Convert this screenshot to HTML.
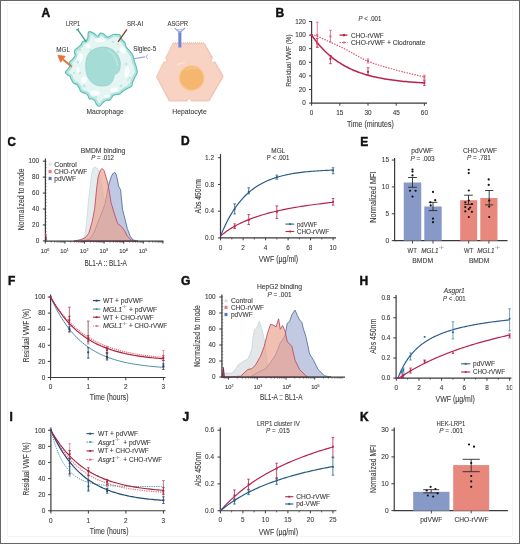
<!DOCTYPE html><html><head><meta charset="utf-8"><style>html,body{margin:0;padding:0;background:#fff;}svg{display:block;font-family:"Liberation Sans",sans-serif;filter:blur(0.3px);}</style></head><body>
<svg width="520" height="544" viewBox="0 0 520 544">
<rect x="0" y="0" width="520" height="544" fill="#fff"/>
<text x="41.5" y="16.70" font-size="12" font-weight="bold" fill="#111" stroke="#111" stroke-width="0.45">A</text>
<text x="275.5" y="16.80" font-size="12" font-weight="bold" fill="#111" stroke="#111" stroke-width="0.45">B</text>
<text x="7.2" y="145.60" font-size="12" font-weight="bold" fill="#111" stroke="#111" stroke-width="0.45">C</text>
<text x="181" y="145.40" font-size="12" font-weight="bold" fill="#111" stroke="#111" stroke-width="0.45">D</text>
<text x="360.2" y="145.60" font-size="12" font-weight="bold" fill="#111" stroke="#111" stroke-width="0.45">E</text>
<text x="8" y="284.50" font-size="12" font-weight="bold" fill="#111" stroke="#111" stroke-width="0.45">F</text>
<text x="181" y="284.50" font-size="12" font-weight="bold" fill="#111" stroke="#111" stroke-width="0.45">G</text>
<text x="359.5" y="284.50" font-size="12" font-weight="bold" fill="#111" stroke="#111" stroke-width="0.45">H</text>
<text x="9.5" y="421.10" font-size="12" font-weight="bold" fill="#111" stroke="#111" stroke-width="0.45">I</text>
<text x="182.5" y="421.10" font-size="12" font-weight="bold" fill="#111" stroke="#111" stroke-width="0.45">J</text>
<text x="360" y="421.20" font-size="12" font-weight="bold" fill="#111" stroke="#111" stroke-width="0.45">K</text>
<defs><clipPath id="macclip"><path d="M88.20,32.75 C88.51,31.72 88.82,31.52 89.77,31.62 C90.72,31.71 92.56,32.58 93.88,33.34 C95.19,34.11 96.57,36.26 97.66,36.20 C98.76,36.14 99.43,33.36 100.45,33.01 C101.46,32.65 102.53,33.39 103.74,34.07 C104.94,34.76 106.11,37.06 107.70,37.12 C109.29,37.18 111.71,34.85 113.26,34.42 C114.81,33.99 115.89,34.47 116.98,34.55 C118.07,34.63 118.93,33.99 119.81,34.88 C120.69,35.76 121.42,38.55 122.25,39.84 C123.09,41.13 124.16,41.42 124.83,42.63 C125.50,43.84 125.44,45.67 126.29,47.11 C127.15,48.55 128.82,49.79 129.96,51.28 C131.09,52.76 132.37,54.29 133.10,56.02 C133.84,57.74 133.94,60.11 134.38,61.62 C134.82,63.13 135.26,63.33 135.75,65.07 C136.24,66.82 137.43,70.13 137.32,72.08 C137.21,74.02 135.89,75.04 135.10,76.73 C134.31,78.42 133.10,80.67 132.56,82.22 C132.01,83.77 132.44,85.10 131.85,86.01 C131.26,86.93 130.14,87.09 129.02,87.70 C127.91,88.31 126.31,89.01 125.16,89.68 C124.01,90.36 123.01,91.04 122.13,91.76 C121.24,92.48 120.79,93.57 119.86,94.03 C118.94,94.49 117.70,94.28 116.58,94.53 C115.45,94.78 114.14,94.66 113.11,95.52 C112.07,96.38 111.45,98.90 110.34,99.70 C109.24,100.50 107.58,99.94 106.47,100.32 C105.37,100.70 104.87,101.00 103.69,102.00 C102.52,102.99 100.67,105.91 99.45,106.28 C98.23,106.65 97.20,105.15 96.39,104.20 C95.59,103.26 95.40,101.51 94.62,100.61 C93.85,99.71 92.59,99.09 91.73,98.80 C90.88,98.52 90.21,99.59 89.49,98.91 C88.78,98.22 88.14,95.62 87.44,94.69 C86.74,93.77 86.36,93.85 85.27,93.34 C84.18,92.84 81.96,92.67 80.89,91.68 C79.83,90.69 79.56,88.59 78.88,87.39 C78.19,86.19 77.68,85.21 76.79,84.49 C75.89,83.76 74.44,83.96 73.50,83.07 C72.55,82.17 71.67,80.25 71.11,79.14 C70.54,78.03 70.75,77.18 70.10,76.41 C69.45,75.65 67.98,75.29 67.20,74.56 C66.43,73.82 65.23,73.00 65.44,71.99 C65.65,70.98 67.69,69.55 68.45,68.49 C69.20,67.43 69.81,66.69 69.98,65.64 C70.15,64.60 69.09,63.28 69.48,62.23 C69.87,61.18 71.38,60.47 72.33,59.35 C73.27,58.23 74.78,56.93 75.13,55.53 C75.49,54.12 73.99,52.23 74.46,50.89 C74.94,49.55 76.86,48.51 77.97,47.48 C79.08,46.44 80.33,45.68 81.12,44.67 C81.91,43.65 81.88,42.02 82.69,41.38 C83.50,40.73 85.12,41.39 85.99,40.80 C86.85,40.21 87.51,39.15 87.88,37.81 C88.25,36.47 87.88,33.78 88.20,32.75 Z"/></clipPath></defs>
<path d="M88.20,32.75 C88.51,31.72 88.82,31.52 89.77,31.62 C90.72,31.71 92.56,32.58 93.88,33.34 C95.19,34.11 96.57,36.26 97.66,36.20 C98.76,36.14 99.43,33.36 100.45,33.01 C101.46,32.65 102.53,33.39 103.74,34.07 C104.94,34.76 106.11,37.06 107.70,37.12 C109.29,37.18 111.71,34.85 113.26,34.42 C114.81,33.99 115.89,34.47 116.98,34.55 C118.07,34.63 118.93,33.99 119.81,34.88 C120.69,35.76 121.42,38.55 122.25,39.84 C123.09,41.13 124.16,41.42 124.83,42.63 C125.50,43.84 125.44,45.67 126.29,47.11 C127.15,48.55 128.82,49.79 129.96,51.28 C131.09,52.76 132.37,54.29 133.10,56.02 C133.84,57.74 133.94,60.11 134.38,61.62 C134.82,63.13 135.26,63.33 135.75,65.07 C136.24,66.82 137.43,70.13 137.32,72.08 C137.21,74.02 135.89,75.04 135.10,76.73 C134.31,78.42 133.10,80.67 132.56,82.22 C132.01,83.77 132.44,85.10 131.85,86.01 C131.26,86.93 130.14,87.09 129.02,87.70 C127.91,88.31 126.31,89.01 125.16,89.68 C124.01,90.36 123.01,91.04 122.13,91.76 C121.24,92.48 120.79,93.57 119.86,94.03 C118.94,94.49 117.70,94.28 116.58,94.53 C115.45,94.78 114.14,94.66 113.11,95.52 C112.07,96.38 111.45,98.90 110.34,99.70 C109.24,100.50 107.58,99.94 106.47,100.32 C105.37,100.70 104.87,101.00 103.69,102.00 C102.52,102.99 100.67,105.91 99.45,106.28 C98.23,106.65 97.20,105.15 96.39,104.20 C95.59,103.26 95.40,101.51 94.62,100.61 C93.85,99.71 92.59,99.09 91.73,98.80 C90.88,98.52 90.21,99.59 89.49,98.91 C88.78,98.22 88.14,95.62 87.44,94.69 C86.74,93.77 86.36,93.85 85.27,93.34 C84.18,92.84 81.96,92.67 80.89,91.68 C79.83,90.69 79.56,88.59 78.88,87.39 C78.19,86.19 77.68,85.21 76.79,84.49 C75.89,83.76 74.44,83.96 73.50,83.07 C72.55,82.17 71.67,80.25 71.11,79.14 C70.54,78.03 70.75,77.18 70.10,76.41 C69.45,75.65 67.98,75.29 67.20,74.56 C66.43,73.82 65.23,73.00 65.44,71.99 C65.65,70.98 67.69,69.55 68.45,68.49 C69.20,67.43 69.81,66.69 69.98,65.64 C70.15,64.60 69.09,63.28 69.48,62.23 C69.87,61.18 71.38,60.47 72.33,59.35 C73.27,58.23 74.78,56.93 75.13,55.53 C75.49,54.12 73.99,52.23 74.46,50.89 C74.94,49.55 76.86,48.51 77.97,47.48 C79.08,46.44 80.33,45.68 81.12,44.67 C81.91,43.65 81.88,42.02 82.69,41.38 C83.50,40.73 85.12,41.39 85.99,40.80 C86.85,40.21 87.51,39.15 87.88,37.81 C88.25,36.47 87.88,33.78 88.20,32.75 Z" fill="#e4f5f3"/>
<g clip-path="url(#macclip)">
<path d="M88.20,32.75 C88.51,31.72 88.82,31.52 89.77,31.62 C90.72,31.71 92.56,32.58 93.88,33.34 C95.19,34.11 96.57,36.26 97.66,36.20 C98.76,36.14 99.43,33.36 100.45,33.01 C101.46,32.65 102.53,33.39 103.74,34.07 C104.94,34.76 106.11,37.06 107.70,37.12 C109.29,37.18 111.71,34.85 113.26,34.42 C114.81,33.99 115.89,34.47 116.98,34.55 C118.07,34.63 118.93,33.99 119.81,34.88 C120.69,35.76 121.42,38.55 122.25,39.84 C123.09,41.13 124.16,41.42 124.83,42.63 C125.50,43.84 125.44,45.67 126.29,47.11 C127.15,48.55 128.82,49.79 129.96,51.28 C131.09,52.76 132.37,54.29 133.10,56.02 C133.84,57.74 133.94,60.11 134.38,61.62 C134.82,63.13 135.26,63.33 135.75,65.07 C136.24,66.82 137.43,70.13 137.32,72.08 C137.21,74.02 135.89,75.04 135.10,76.73 C134.31,78.42 133.10,80.67 132.56,82.22 C132.01,83.77 132.44,85.10 131.85,86.01 C131.26,86.93 130.14,87.09 129.02,87.70 C127.91,88.31 126.31,89.01 125.16,89.68 C124.01,90.36 123.01,91.04 122.13,91.76 C121.24,92.48 120.79,93.57 119.86,94.03 C118.94,94.49 117.70,94.28 116.58,94.53 C115.45,94.78 114.14,94.66 113.11,95.52 C112.07,96.38 111.45,98.90 110.34,99.70 C109.24,100.50 107.58,99.94 106.47,100.32 C105.37,100.70 104.87,101.00 103.69,102.00 C102.52,102.99 100.67,105.91 99.45,106.28 C98.23,106.65 97.20,105.15 96.39,104.20 C95.59,103.26 95.40,101.51 94.62,100.61 C93.85,99.71 92.59,99.09 91.73,98.80 C90.88,98.52 90.21,99.59 89.49,98.91 C88.78,98.22 88.14,95.62 87.44,94.69 C86.74,93.77 86.36,93.85 85.27,93.34 C84.18,92.84 81.96,92.67 80.89,91.68 C79.83,90.69 79.56,88.59 78.88,87.39 C78.19,86.19 77.68,85.21 76.79,84.49 C75.89,83.76 74.44,83.96 73.50,83.07 C72.55,82.17 71.67,80.25 71.11,79.14 C70.54,78.03 70.75,77.18 70.10,76.41 C69.45,75.65 67.98,75.29 67.20,74.56 C66.43,73.82 65.23,73.00 65.44,71.99 C65.65,70.98 67.69,69.55 68.45,68.49 C69.20,67.43 69.81,66.69 69.98,65.64 C70.15,64.60 69.09,63.28 69.48,62.23 C69.87,61.18 71.38,60.47 72.33,59.35 C73.27,58.23 74.78,56.93 75.13,55.53 C75.49,54.12 73.99,52.23 74.46,50.89 C74.94,49.55 76.86,48.51 77.97,47.48 C79.08,46.44 80.33,45.68 81.12,44.67 C81.91,43.65 81.88,42.02 82.69,41.38 C83.50,40.73 85.12,41.39 85.99,40.80 C86.85,40.21 87.51,39.15 87.88,37.81 C88.25,36.47 87.88,33.78 88.20,32.75 Z" fill="none" stroke="#b3e4de" stroke-width="5"/>
<ellipse cx="80" cy="58" rx="3" ry="5" transform="rotate(20 80 58)" fill="#fbfefe" opacity="0.9"/>
<ellipse cx="84" cy="80" rx="3" ry="3.5" transform="rotate(0 84 80)" fill="#fbfefe" opacity="0.9"/>
<ellipse cx="95" cy="93" rx="5" ry="2.5" transform="rotate(10 95 93)" fill="#fbfefe" opacity="0.9"/>
<ellipse cx="114" cy="90" rx="4" ry="2.5" transform="rotate(-20 114 90)" fill="#fbfefe" opacity="0.9"/>
<ellipse cx="127" cy="72" rx="2.5" ry="6" transform="rotate(10 127 72)" fill="#fbfefe" opacity="0.9"/>
<ellipse cx="123" cy="50" rx="3" ry="4" transform="rotate(-30 123 50)" fill="#fbfefe" opacity="0.9"/>
<ellipse cx="100" cy="40" rx="5" ry="2" transform="rotate(0 100 40)" fill="#fbfefe" opacity="0.9"/>
<ellipse cx="88" cy="46" rx="2.5" ry="2" transform="rotate(20 88 46)" fill="#fbfefe" opacity="0.9"/>
<ellipse cx="107" cy="96" rx="3" ry="1.5" transform="rotate(0 107 96)" fill="#fbfefe" opacity="0.9"/>
<ellipse cx="78" cy="70" rx="1.5" ry="3" transform="rotate(0 78 70)" fill="#fbfefe" opacity="0.9"/>
<circle cx="78" cy="62" r="1.3" fill="#bfe8e3"/>
<circle cx="84" cy="86" r="1.5" fill="#bfe8e3"/>
<circle cx="121" cy="86" r="1.6" fill="#bfe8e3"/>
<circle cx="126" cy="64" r="1.3" fill="#bfe8e3"/>
<circle cx="96" cy="97" r="1.3" fill="#bfe8e3"/>
<circle cx="113" cy="42" r="1.2" fill="#bfe8e3"/>
<circle cx="90" cy="50" r="1.1" fill="#bfe8e3"/>
<circle cx="118" cy="52" r="1.2" fill="#bfe8e3"/>
<circle cx="130" cy="78" r="1.2" fill="#bfe8e3"/>
<circle cx="74" cy="73" r="1.1" fill="#bfe8e3"/>
<circle cx="104" cy="100" r="1.4" fill="#bfe8e3"/>
<circle cx="129" cy="84" r="1.1" fill="#bfe8e3"/>
<circle cx="80" cy="50" r="1.2" fill="#bfe8e3"/>
</g>
<path d="M88.20,32.75 C88.51,31.72 88.82,31.52 89.77,31.62 C90.72,31.71 92.56,32.58 93.88,33.34 C95.19,34.11 96.57,36.26 97.66,36.20 C98.76,36.14 99.43,33.36 100.45,33.01 C101.46,32.65 102.53,33.39 103.74,34.07 C104.94,34.76 106.11,37.06 107.70,37.12 C109.29,37.18 111.71,34.85 113.26,34.42 C114.81,33.99 115.89,34.47 116.98,34.55 C118.07,34.63 118.93,33.99 119.81,34.88 C120.69,35.76 121.42,38.55 122.25,39.84 C123.09,41.13 124.16,41.42 124.83,42.63 C125.50,43.84 125.44,45.67 126.29,47.11 C127.15,48.55 128.82,49.79 129.96,51.28 C131.09,52.76 132.37,54.29 133.10,56.02 C133.84,57.74 133.94,60.11 134.38,61.62 C134.82,63.13 135.26,63.33 135.75,65.07 C136.24,66.82 137.43,70.13 137.32,72.08 C137.21,74.02 135.89,75.04 135.10,76.73 C134.31,78.42 133.10,80.67 132.56,82.22 C132.01,83.77 132.44,85.10 131.85,86.01 C131.26,86.93 130.14,87.09 129.02,87.70 C127.91,88.31 126.31,89.01 125.16,89.68 C124.01,90.36 123.01,91.04 122.13,91.76 C121.24,92.48 120.79,93.57 119.86,94.03 C118.94,94.49 117.70,94.28 116.58,94.53 C115.45,94.78 114.14,94.66 113.11,95.52 C112.07,96.38 111.45,98.90 110.34,99.70 C109.24,100.50 107.58,99.94 106.47,100.32 C105.37,100.70 104.87,101.00 103.69,102.00 C102.52,102.99 100.67,105.91 99.45,106.28 C98.23,106.65 97.20,105.15 96.39,104.20 C95.59,103.26 95.40,101.51 94.62,100.61 C93.85,99.71 92.59,99.09 91.73,98.80 C90.88,98.52 90.21,99.59 89.49,98.91 C88.78,98.22 88.14,95.62 87.44,94.69 C86.74,93.77 86.36,93.85 85.27,93.34 C84.18,92.84 81.96,92.67 80.89,91.68 C79.83,90.69 79.56,88.59 78.88,87.39 C78.19,86.19 77.68,85.21 76.79,84.49 C75.89,83.76 74.44,83.96 73.50,83.07 C72.55,82.17 71.67,80.25 71.11,79.14 C70.54,78.03 70.75,77.18 70.10,76.41 C69.45,75.65 67.98,75.29 67.20,74.56 C66.43,73.82 65.23,73.00 65.44,71.99 C65.65,70.98 67.69,69.55 68.45,68.49 C69.20,67.43 69.81,66.69 69.98,65.64 C70.15,64.60 69.09,63.28 69.48,62.23 C69.87,61.18 71.38,60.47 72.33,59.35 C73.27,58.23 74.78,56.93 75.13,55.53 C75.49,54.12 73.99,52.23 74.46,50.89 C74.94,49.55 76.86,48.51 77.97,47.48 C79.08,46.44 80.33,45.68 81.12,44.67 C81.91,43.65 81.88,42.02 82.69,41.38 C83.50,40.73 85.12,41.39 85.99,40.80 C86.85,40.21 87.51,39.15 87.88,37.81 C88.25,36.47 87.88,33.78 88.20,32.75 Z" fill="none" stroke="#5bbcb2" stroke-width="1.1" stroke-linejoin="round"/>
<circle cx="80" cy="73" r="0.6" fill="#d9866a"/>
<circle cx="128" cy="80" r="0.5" fill="#d9866a"/>
<path d="M101.00,47.20 C104.17,46.78 107.33,47.37 110.00,48.50 C112.67,49.63 115.30,51.75 117.00,54.00 C118.70,56.25 119.78,59.33 120.20,62.00 C120.62,64.67 120.03,68.08 119.50,70.00 C118.97,71.92 117.83,72.75 117.00,73.50 C116.17,74.25 115.08,73.67 114.50,74.50 C113.92,75.33 114.25,76.92 113.50,78.50 C112.75,80.08 111.75,82.75 110.00,84.00 C108.25,85.25 105.50,85.92 103.00,86.00 C100.50,86.08 97.33,85.67 95.00,84.50 C92.67,83.33 90.50,81.42 89.00,79.00 C87.50,76.58 86.42,73.33 86.00,70.00 C85.58,66.67 85.67,62.17 86.50,59.00 C87.33,55.83 88.58,52.97 91.00,51.00 C93.42,49.03 97.83,47.62 101.00,47.20 Z" fill="#a6dcd6" stroke="#8fd0c9" stroke-width="0.8"/>
<path d="M108,50 Q117,56 117.5,66" stroke="#bce6e1" stroke-width="1.2" fill="none"/>
<path d="M77.5,29.4 L86.25,41.9" stroke="#3a9a91" stroke-width="1.3"/>
<path d="M76.2,30.2 L79,28.6" stroke="#3a9a91" stroke-width="1.1"/>
<path d="M126.9,29.4 L118.1,41.9" stroke="#7e3f2b" stroke-width="1.3"/>
<circle cx="117.6" cy="44" r="1.3" fill="#f2e8b0"/>
<path d="M63,59.5 L71,66" stroke="#e2773a" stroke-width="2.2"/>
<path d="M57.8,55.2 L65.2,56.3 L60.6,62.2 Z" fill="#e2773a" stroke="#e2773a" stroke-width="0.8" stroke-linejoin="round"/>
<path d="M69,64.5 L72,67" stroke="#9c8c80" stroke-width="1.2"/>
<path d="M133.75,58.75 L145,56.9" stroke="#8fa8d8" stroke-width="1.1"/>
<path d="M147.8,54.8 Q144.6,56.8 147.8,58.8" stroke="#8fa8d8" stroke-width="1" fill="none"/>
<path d="M172.50,44.20 L173.50,42.40 L174.50,44.20 L175.50,42.40 L176.50,44.20 L177.50,42.40 L178.50,44.20 L179.50,42.40 L180.50,44.20 L181.50,42.40 L182.50,44.20 L183.50,42.40 L184.50,44.20 L185.50,42.40 L186.50,44.20 L187.50,42.40 L188.50,44.20 L189.50,42.40 L190.50,44.20 L191.50,42.40 L192.50,44.20 L193.50,42.40 L194.50,44.20 L195.50,42.40 L196.50,44.20 L197.50,42.40 L198.50,44.20 L199.50,42.40 L200.50,44.20 L201.50,42.40 L202.50,44.20 L203.50,42.40 L204.00,44.20 L205.37,44.57 L205.00,45.93 L206.36,46.30 L206.00,47.67 L207.36,48.03 L206.99,49.40 L208.36,49.77 L207.99,51.13 L209.36,51.50 L208.99,52.87 L210.36,53.23 L209.99,54.60 L211.35,54.97 L210.99,56.33 L212.35,56.70 L211.98,58.07 L212.30,58.62 L211.65,59.17 L211.25,59.90 L211.16,60.70 L211.39,61.45 L211.92,62.03 L212.66,62.35 L213.49,62.37 L214.30,62.08 L215.35,61.90 L214.98,63.26 L216.34,63.63 L215.98,65.00 L217.34,65.37 L216.97,66.73 L218.34,67.10 L217.97,68.46 L219.34,68.83 L218.97,70.20 L220.34,70.57 L219.97,71.93 L221.33,72.30 L220.97,73.66 L222.33,74.03 L221.96,75.40 L223.33,75.76 L222.60,76.50 L222.96,77.87 L221.59,78.23 L221.95,79.60 L220.58,79.95 L220.94,81.32 L219.58,81.68 L219.94,83.05 L218.57,83.41 L218.93,84.78 L217.56,85.14 L217.92,86.50 L216.55,86.86 L216.91,88.23 L215.54,88.59 L215.90,89.96 L214.53,90.32 L214.89,91.69 L213.53,92.05 L213.89,93.41 L212.52,93.77 L212.88,95.14 L211.51,95.50 L211.87,96.87 L210.50,97.23 L210.86,98.60 L209.49,98.95 L209.85,100.32 L208.49,100.68 L208.30,101.00 L207.30,101.00 L206.30,101.00 L205.30,101.00 L204.30,101.00 L203.30,101.00 L202.30,101.00 L201.30,101.00 L200.30,101.00 L199.30,101.00 L198.30,101.00 L197.30,101.00 L196.30,101.00 L195.30,101.00 L194.30,101.00 L193.30,101.00 L192.30,101.00 L191.30,101.00 L191.15,101.00 L191.00,100.16 L190.56,99.44 L189.92,98.97 L189.15,98.80 L188.38,98.97 L187.74,99.44 L187.30,100.16 L187.15,101.00 L186.30,101.00 L185.30,101.00 L184.30,101.00 L183.30,101.00 L182.30,101.00 L181.30,101.00 L180.30,101.00 L179.30,101.00 L178.30,101.00 L177.30,101.00 L176.30,101.00 L175.30,101.00 L174.30,101.00 L173.30,101.00 L172.30,101.00 L171.30,101.00 L170.30,101.00 L170.00,101.00 L168.65,100.58 L169.07,99.23 L167.71,98.81 L168.13,97.46 L166.78,97.05 L167.20,95.69 L165.85,95.28 L166.26,93.93 L164.91,93.51 L165.33,92.16 L163.98,91.74 L164.40,90.39 L163.05,89.97 L163.46,88.62 L162.11,88.20 L162.53,86.85 L161.18,86.43 L161.60,85.08 L160.24,84.67 L160.66,83.31 L159.31,82.90 L159.73,81.55 L158.38,81.13 L158.79,79.78 L157.44,79.36 L157.86,78.01 L156.51,77.59 L156.93,76.24 L156.80,76.00 L157.24,75.10 L157.69,74.21 L158.13,73.31 L158.57,72.41 L159.01,71.52 L159.46,70.62 L159.90,69.72 L160.34,68.83 L160.78,67.93 L161.23,67.03 L161.67,66.14 L162.11,65.24 L162.56,64.34 L163.00,63.45 L163.44,62.55 L163.76,61.89 L164.59,62.13 L165.42,62.06 L166.13,61.69 L166.62,61.07 L166.81,60.31 L166.67,59.52 L166.22,58.82 L165.54,58.31 L165.65,58.07 L166.10,57.17 L166.54,56.27 L166.98,55.38 L167.42,54.48 L167.87,53.58 L168.31,52.69 L168.75,51.79 L169.20,50.89 L169.64,50.00 L170.08,49.10 L170.52,48.20 L170.97,47.31 L171.41,46.41 L171.85,45.51 L172.29,44.62 Z" fill="#f8d2c2" stroke="#eab29c" stroke-width="0.7" stroke-linejoin="round"/>
<circle cx="191.7" cy="78" r="12.4" fill="#f5b66f" stroke="#f8cb98" stroke-width="1.3"/>
<path d="M186,70 Q191,66.5 197,68.5" stroke="#f9d3a6" stroke-width="0.8" fill="none"/>
<path d="M177,64.5 L185,62.5" stroke="#fbe6dd" stroke-width="1.1" fill="none"/>
<rect x="178.2" y="31.3" width="3.1" height="16.2" fill="#7484cc" stroke="#b3bfe9" stroke-width="0.5"/>
<path d="M174.6,28 L179.7,32.5 L185.2,28" stroke="#9aaae0" stroke-width="1.3" fill="none"/>
<path d="M176.6,29.8 L183,29.8" stroke="#9aaae0" stroke-width="0.8" fill="none"/>
<text x="73.00" y="25.96" font-size="6.6" fill="#3b3b3b" text-anchor="middle" textLength="14" lengthAdjust="spacingAndGlyphs" stroke="#3b3b3b" stroke-width="0.08">LRP1</text>
<text x="63.10" y="51.96" font-size="6.6" fill="#3b3b3b" text-anchor="middle" textLength="13.75" lengthAdjust="spacingAndGlyphs" stroke="#3b3b3b" stroke-width="0.08">MGL</text>
<text x="135.00" y="26.11" font-size="6.6" fill="#3b3b3b" text-anchor="middle" textLength="16.2" lengthAdjust="spacingAndGlyphs" stroke="#3b3b3b" stroke-width="0.08">SR-AI</text>
<text x="144.70" y="51.16" font-size="6.6" fill="#3b3b3b" text-anchor="middle" textLength="23.15" lengthAdjust="spacingAndGlyphs" stroke="#3b3b3b" stroke-width="0.08">Siglec-5</text>
<text x="177.80" y="25.96" font-size="6.6" fill="#3b3b3b" text-anchor="middle" textLength="20.6" lengthAdjust="spacingAndGlyphs" stroke="#3b3b3b" stroke-width="0.08">ASGPR</text>
<text x="105.05" y="113.56" font-size="6.6" fill="#3b3b3b" text-anchor="middle" textLength="37.1" lengthAdjust="spacingAndGlyphs" stroke="#3b3b3b" stroke-width="0.08">Macrophage</text>
<text x="189.50" y="113.56" font-size="6.6" fill="#3b3b3b" text-anchor="middle" textLength="34.5" lengthAdjust="spacingAndGlyphs" stroke="#3b3b3b" stroke-width="0.08">Hepatocyte</text>
<line x1="311.60" y1="21.00" x2="311.60" y2="103.70" stroke="#3a3a3a" stroke-width="1.2" />
<line x1="309.00" y1="103.10" x2="311.60" y2="103.10" stroke="#3a3a3a" stroke-width="1.0" />
<text x="305.80" y="105.39" font-size="6.4" fill="#3b3b3b" stroke="#3b3b3b" stroke-width="0.1" text-anchor="end" >0</text>
<line x1="309.00" y1="89.50" x2="311.60" y2="89.50" stroke="#3a3a3a" stroke-width="1.0" />
<text x="305.80" y="91.79" font-size="6.4" fill="#3b3b3b" stroke="#3b3b3b" stroke-width="0.1" text-anchor="end" >20</text>
<line x1="309.00" y1="75.90" x2="311.60" y2="75.90" stroke="#3a3a3a" stroke-width="1.0" />
<text x="305.80" y="78.19" font-size="6.4" fill="#3b3b3b" stroke="#3b3b3b" stroke-width="0.1" text-anchor="end" >40</text>
<line x1="309.00" y1="62.30" x2="311.60" y2="62.30" stroke="#3a3a3a" stroke-width="1.0" />
<text x="305.80" y="64.59" font-size="6.4" fill="#3b3b3b" stroke="#3b3b3b" stroke-width="0.1" text-anchor="end" >60</text>
<line x1="309.00" y1="48.70" x2="311.60" y2="48.70" stroke="#3a3a3a" stroke-width="1.0" />
<text x="305.80" y="50.99" font-size="6.4" fill="#3b3b3b" stroke="#3b3b3b" stroke-width="0.1" text-anchor="end" >80</text>
<line x1="309.00" y1="35.10" x2="311.60" y2="35.10" stroke="#3a3a3a" stroke-width="1.0" />
<text x="305.80" y="37.39" font-size="6.4" fill="#3b3b3b" stroke="#3b3b3b" stroke-width="0.1" text-anchor="end" >100</text>
<line x1="309.00" y1="21.50" x2="311.60" y2="21.50" stroke="#3a3a3a" stroke-width="1.0" />
<text x="305.80" y="23.79" font-size="6.4" fill="#3b3b3b" stroke="#3b3b3b" stroke-width="0.1" text-anchor="end" >120</text>
<line x1="311.00" y1="103.10" x2="427.00" y2="103.10" stroke="#3a3a3a" stroke-width="1.2" />
<line x1="311.60" y1="103.10" x2="311.60" y2="105.70" stroke="#3a3a3a" stroke-width="1.0" />
<text x="311.60" y="114.79" font-size="6.4" fill="#3b3b3b" stroke="#3b3b3b" stroke-width="0.1" text-anchor="middle" >0</text>
<line x1="339.80" y1="103.10" x2="339.80" y2="105.70" stroke="#3a3a3a" stroke-width="1.0" />
<text x="339.80" y="114.79" font-size="6.4" fill="#3b3b3b" stroke="#3b3b3b" stroke-width="0.1" text-anchor="middle" >15</text>
<line x1="368.00" y1="103.10" x2="368.00" y2="105.70" stroke="#3a3a3a" stroke-width="1.0" />
<text x="368.00" y="114.79" font-size="6.4" fill="#3b3b3b" stroke="#3b3b3b" stroke-width="0.1" text-anchor="middle" >30</text>
<line x1="396.20" y1="103.10" x2="396.20" y2="105.70" stroke="#3a3a3a" stroke-width="1.0" />
<text x="396.20" y="114.79" font-size="6.4" fill="#3b3b3b" stroke="#3b3b3b" stroke-width="0.1" text-anchor="middle" >45</text>
<line x1="424.40" y1="103.10" x2="424.40" y2="105.70" stroke="#3a3a3a" stroke-width="1.0" />
<text x="424.40" y="114.79" font-size="6.4" fill="#3b3b3b" stroke="#3b3b3b" stroke-width="0.1" text-anchor="middle" >60</text>
<text x="370.40" y="126.74" font-size="8.5" fill="#3b3b3b" stroke="#3b3b3b" stroke-width="0.1" text-anchor="middle" textLength="46.75" lengthAdjust="spacingAndGlyphs" >Time (minutes)</text>
<text transform="translate(288.60,60.60) rotate(-90)" x="0" y="2.83" text-anchor="middle" font-size="7.9" fill="#3b3b3b" stroke="#3b3b3b" stroke-width="0.1" textLength="52.5" lengthAdjust="spacingAndGlyphs" >Residual VWF (%)</text>
<text x="369.90" y="20.59" font-size="6.4" fill="#3b3b3b" stroke="#3b3b3b" stroke-width="0.1" text-anchor="middle" textLength="22.75" lengthAdjust="spacingAndGlyphs" ><tspan font-style="italic">P</tspan> &lt; .001</text>
<path d="M311.60,35.10 L313.48,37.76 L315.36,40.27 L317.24,42.65 L319.12,44.90 L321.00,47.03 L322.88,49.05 L324.76,50.96 L326.64,52.77 L328.52,54.48 L330.40,56.10 L332.28,57.63 L334.16,59.08 L336.04,60.46 L337.92,61.76 L339.80,62.99 L341.68,64.15 L343.56,65.25 L345.44,66.29 L347.32,67.28 L349.20,68.22 L351.08,69.10 L352.96,69.94 L354.84,70.73 L356.72,71.48 L358.60,72.19 L360.48,72.86 L362.36,73.50 L364.24,74.10 L366.12,74.67 L368.00,75.21 L369.88,75.72 L371.76,76.20 L373.64,76.66 L375.52,77.09 L377.40,77.50 L379.28,77.89 L381.16,78.25 L383.04,78.60 L384.92,78.93 L386.80,79.24 L388.68,79.53 L390.56,79.81 L392.44,80.08 L394.32,80.33 L396.20,80.56 L398.08,80.79 L399.96,81.00 L401.84,81.20 L403.72,81.39 L405.60,81.57 L407.48,81.74 L409.36,81.90 L411.24,82.05 L413.12,82.19 L415.00,82.33 L416.88,82.46 L418.76,82.58 L420.64,82.70 L422.52,82.81 L424.40,82.91" stroke="#b8234e" stroke-width="1.5" fill="none" />
<path d="M311.60,35.10 L311.85,35.14 L312.13,35.16 L312.45,35.19 L312.80,35.21 L313.20,35.24 L313.63,35.29 L314.11,35.35 L314.64,35.44 L315.21,35.57 L315.83,35.73 L316.51,35.93 L317.24,36.19 L318.03,36.49 L318.88,36.84 L319.78,37.23 L320.74,37.65 L321.74,38.10 L322.79,38.58 L323.88,39.09 L325.00,39.62 L326.17,40.17 L327.36,40.74 L328.59,41.31 L329.84,41.90 L331.12,42.50 L332.45,43.12 L333.83,43.76 L335.25,44.42 L336.70,45.09 L338.18,45.79 L339.69,46.50 L341.22,47.23 L342.77,47.98 L344.34,48.75 L345.92,49.53 L347.51,50.33 L349.09,51.16 L350.67,52.04 L352.25,52.94 L353.84,53.87 L355.46,54.82 L357.10,55.78 L358.77,56.74 L360.49,57.69 L362.27,58.63 L364.11,59.55 L366.01,60.43 L368.00,61.28 L370.08,62.10 L372.25,62.90 L374.51,63.69 L376.83,64.46 L379.20,65.22 L381.62,65.96 L384.06,66.69 L386.51,67.40 L388.97,68.10 L391.41,68.79 L393.83,69.46 L396.20,70.12 L398.64,70.78 L401.23,71.45 L403.91,72.12 L406.64,72.79 L409.38,73.44 L412.06,74.07 L414.65,74.67 L417.09,75.23 L419.33,75.75 L421.33,76.20 L423.04,76.60 L424.40,76.92" stroke="#dc5a74" stroke-width="1.2" fill="none" stroke-dasharray="1.5,1.2"/>
<line x1="317.24" y1="38.50" x2="317.24" y2="47.34" stroke="#b8234e" stroke-width="0.8" />
<line x1="315.94" y1="38.50" x2="318.54" y2="38.50" stroke="#b8234e" stroke-width="0.8" />
<line x1="315.94" y1="47.34" x2="318.54" y2="47.34" stroke="#b8234e" stroke-width="0.8" />
<rect x="316.29" y="42.31" width="1.9" height="1.9" fill="#b8234e"/>
<line x1="330.40" y1="55.50" x2="330.40" y2="63.66" stroke="#b8234e" stroke-width="0.8" />
<line x1="329.10" y1="55.50" x2="331.70" y2="55.50" stroke="#b8234e" stroke-width="0.8" />
<line x1="329.10" y1="63.66" x2="331.70" y2="63.66" stroke="#b8234e" stroke-width="0.8" />
<rect x="329.45" y="57.95" width="1.9" height="1.9" fill="#b8234e"/>
<line x1="368.00" y1="67.74" x2="368.00" y2="75.22" stroke="#b8234e" stroke-width="0.8" />
<line x1="366.70" y1="67.74" x2="369.30" y2="67.74" stroke="#b8234e" stroke-width="0.8" />
<line x1="366.70" y1="75.22" x2="369.30" y2="75.22" stroke="#b8234e" stroke-width="0.8" />
<rect x="367.05" y="70.87" width="1.9" height="1.9" fill="#b8234e"/>
<line x1="424.40" y1="80.66" x2="424.40" y2="85.42" stroke="#b8234e" stroke-width="0.8" />
<line x1="423.10" y1="80.66" x2="425.70" y2="80.66" stroke="#b8234e" stroke-width="0.8" />
<line x1="423.10" y1="85.42" x2="425.70" y2="85.42" stroke="#b8234e" stroke-width="0.8" />
<rect x="423.45" y="81.75" width="1.9" height="1.9" fill="#b8234e"/>
<line x1="317.24" y1="22.18" x2="317.24" y2="47.34" stroke="#dc5a74" stroke-width="0.8" />
<line x1="315.94" y1="22.18" x2="318.54" y2="22.18" stroke="#dc5a74" stroke-width="0.8" />
<line x1="315.94" y1="47.34" x2="318.54" y2="47.34" stroke="#dc5a74" stroke-width="0.8" />
<rect x="316.29" y="34.15" width="1.9" height="1.9" fill="#dc5a74"/>
<line x1="330.40" y1="30.34" x2="330.40" y2="41.90" stroke="#dc5a74" stroke-width="0.8" />
<line x1="329.10" y1="30.34" x2="331.70" y2="30.34" stroke="#dc5a74" stroke-width="0.8" />
<line x1="329.10" y1="41.90" x2="331.70" y2="41.90" stroke="#dc5a74" stroke-width="0.8" />
<rect x="329.45" y="35.51" width="1.9" height="1.9" fill="#dc5a74"/>
<line x1="368.00" y1="58.90" x2="368.00" y2="62.98" stroke="#dc5a74" stroke-width="0.8" />
<line x1="366.70" y1="58.90" x2="369.30" y2="58.90" stroke="#dc5a74" stroke-width="0.8" />
<line x1="366.70" y1="62.98" x2="369.30" y2="62.98" stroke="#dc5a74" stroke-width="0.8" />
<rect x="367.05" y="59.99" width="1.9" height="1.9" fill="#dc5a74"/>
<line x1="424.40" y1="75.22" x2="424.40" y2="79.30" stroke="#dc5a74" stroke-width="0.8" />
<line x1="423.10" y1="75.22" x2="425.70" y2="75.22" stroke="#dc5a74" stroke-width="0.8" />
<line x1="423.10" y1="79.30" x2="425.70" y2="79.30" stroke="#dc5a74" stroke-width="0.8" />
<rect x="423.45" y="76.31" width="1.9" height="1.9" fill="#dc5a74"/>
<rect x="310.50" y="34.00" width="2.2" height="2.2" fill="#b8234e"/>
<line x1="339.50" y1="35.10" x2="347.50" y2="35.10" stroke="#b8234e" stroke-width="1.3" />
<rect x="342.90" y="34.00" width="2.2" height="2.2" fill="#b8234e"/>
<line x1="339.50" y1="42.50" x2="347.50" y2="42.50" stroke="#dc5a74" stroke-width="1.1" stroke-dasharray="1.4,1.1"/>
<rect x="343.10" y="41.60" width="1.8" height="1.8" fill="#dc5a74"/>
<text x="351.00" y="37.53" font-size="6.8" fill="#3b3b3b" stroke="#3b3b3b" stroke-width="0.1" textLength="32.75" lengthAdjust="spacingAndGlyphs" >CHO-rVWF</text>
<text x="351.00" y="44.93" font-size="6.8" fill="#3b3b3b" stroke="#3b3b3b" stroke-width="0.1" textLength="74.4" lengthAdjust="spacingAndGlyphs" >CHO-rVWF + Clodronate</text>
<path d="M80.00,241.00 L83.00,239.50 L85.00,235.20 L86.90,218.80 L88.50,200.00 L89.80,190.00 L91.50,174.80 L93.00,168.50 L95.30,166.80 L96.50,168.50 L97.50,168.00 L99.00,172.00 L101.00,182.00 L104.00,198.00 L108.00,214.00 L112.00,226.00 L116.00,234.00 L122.00,239.00 L128.00,241.00 Z" fill="#e6ebed" fill-opacity="1.0" stroke="#c5dde2" stroke-width="0.8" stroke-linejoin="round"/>
<path d="M84.00,241.00 L89.80,239.00 L93.70,233.30 L97.50,223.70 L101.30,214.00 L105.20,203.50 L107.60,190.00 L109.50,182.00 L111.50,176.00 L113.50,173.00 L114.90,172.50 L116.30,175.00 L117.50,180.00 L118.50,186.00 L120.60,190.00 L122.50,209.20 L125.40,220.80 L127.30,228.50 L130.20,236.20 L133.00,240.00 L138.00,241.00 Z" fill="#bfc9e4" fill-opacity="1.0" stroke="#58749a" stroke-width="0.9" stroke-linejoin="round"/>
<path d="M74.00,241.00 L80.00,239.80 L85.00,238.00 L88.80,233.30 L92.20,221.70 L94.60,209.20 L96.50,190.00 L98.10,177.00 L100.50,170.00 L102.20,168.50 L104.00,170.50 L106.00,177.00 L108.00,184.00 L109.00,190.00 L111.00,202.50 L114.80,215.00 L117.70,223.70 L121.50,226.50 L124.40,230.40 L127.30,236.20 L131.20,240.00 L136.00,241.00 Z" fill="#eba08b" fill-opacity="0.66" stroke="#b9506a" stroke-width="0.9" stroke-linejoin="round"/>
<line x1="45.40" y1="158.50" x2="45.40" y2="241.80" stroke="#3a3a3a" stroke-width="1.2" />
<line x1="42.80" y1="240.90" x2="45.40" y2="240.90" stroke="#3a3a3a" stroke-width="1.0" />
<text x="39.20" y="243.19" font-size="6.4" fill="#3b3b3b" stroke="#3b3b3b" stroke-width="0.1" text-anchor="end" >0</text>
<line x1="42.80" y1="224.96" x2="45.40" y2="224.96" stroke="#3a3a3a" stroke-width="1.0" />
<text x="39.20" y="227.25" font-size="6.4" fill="#3b3b3b" stroke="#3b3b3b" stroke-width="0.1" text-anchor="end" >20</text>
<line x1="42.80" y1="209.02" x2="45.40" y2="209.02" stroke="#3a3a3a" stroke-width="1.0" />
<text x="39.20" y="211.31" font-size="6.4" fill="#3b3b3b" stroke="#3b3b3b" stroke-width="0.1" text-anchor="end" >40</text>
<line x1="42.80" y1="193.08" x2="45.40" y2="193.08" stroke="#3a3a3a" stroke-width="1.0" />
<text x="39.20" y="195.37" font-size="6.4" fill="#3b3b3b" stroke="#3b3b3b" stroke-width="0.1" text-anchor="end" >60</text>
<line x1="42.80" y1="177.14" x2="45.40" y2="177.14" stroke="#3a3a3a" stroke-width="1.0" />
<text x="39.20" y="179.43" font-size="6.4" fill="#3b3b3b" stroke="#3b3b3b" stroke-width="0.1" text-anchor="end" >80</text>
<line x1="42.80" y1="161.20" x2="45.40" y2="161.20" stroke="#3a3a3a" stroke-width="1.0" />
<text x="39.20" y="163.49" font-size="6.4" fill="#3b3b3b" stroke="#3b3b3b" stroke-width="0.1" text-anchor="end" >100</text>
<line x1="44.80" y1="241.20" x2="163.50" y2="241.20" stroke="#3a3a3a" stroke-width="1.3" />
<line x1="45.30" y1="241.20" x2="45.30" y2="243.60" stroke="#3a3a3a" stroke-width="1.0" />
<line x1="64.90" y1="241.20" x2="64.90" y2="243.60" stroke="#3a3a3a" stroke-width="1.0" />
<line x1="84.50" y1="241.20" x2="84.50" y2="243.60" stroke="#3a3a3a" stroke-width="1.0" />
<line x1="104.10" y1="241.20" x2="104.10" y2="243.60" stroke="#3a3a3a" stroke-width="1.0" />
<line x1="123.70" y1="241.20" x2="123.70" y2="243.60" stroke="#3a3a3a" stroke-width="1.0" />
<line x1="143.30" y1="241.20" x2="143.30" y2="243.60" stroke="#3a3a3a" stroke-width="1.0" />
<line x1="162.90" y1="241.20" x2="162.90" y2="243.60" stroke="#3a3a3a" stroke-width="1.0" />
<line x1="51.20" y1="241.20" x2="51.20" y2="242.60" stroke="#3a3a3a" stroke-width="0.7" />
<line x1="54.65" y1="241.20" x2="54.65" y2="242.60" stroke="#3a3a3a" stroke-width="0.7" />
<line x1="57.10" y1="241.20" x2="57.10" y2="242.60" stroke="#3a3a3a" stroke-width="0.7" />
<line x1="59.00" y1="241.20" x2="59.00" y2="242.60" stroke="#3a3a3a" stroke-width="0.7" />
<line x1="60.55" y1="241.20" x2="60.55" y2="242.60" stroke="#3a3a3a" stroke-width="0.7" />
<line x1="61.86" y1="241.20" x2="61.86" y2="242.60" stroke="#3a3a3a" stroke-width="0.7" />
<line x1="63.00" y1="241.20" x2="63.00" y2="242.60" stroke="#3a3a3a" stroke-width="0.7" />
<line x1="64.00" y1="241.20" x2="64.00" y2="242.60" stroke="#3a3a3a" stroke-width="0.7" />
<line x1="70.80" y1="241.20" x2="70.80" y2="242.60" stroke="#3a3a3a" stroke-width="0.7" />
<line x1="74.25" y1="241.20" x2="74.25" y2="242.60" stroke="#3a3a3a" stroke-width="0.7" />
<line x1="76.70" y1="241.20" x2="76.70" y2="242.60" stroke="#3a3a3a" stroke-width="0.7" />
<line x1="78.60" y1="241.20" x2="78.60" y2="242.60" stroke="#3a3a3a" stroke-width="0.7" />
<line x1="80.15" y1="241.20" x2="80.15" y2="242.60" stroke="#3a3a3a" stroke-width="0.7" />
<line x1="81.46" y1="241.20" x2="81.46" y2="242.60" stroke="#3a3a3a" stroke-width="0.7" />
<line x1="82.60" y1="241.20" x2="82.60" y2="242.60" stroke="#3a3a3a" stroke-width="0.7" />
<line x1="83.60" y1="241.20" x2="83.60" y2="242.60" stroke="#3a3a3a" stroke-width="0.7" />
<line x1="90.40" y1="241.20" x2="90.40" y2="242.60" stroke="#3a3a3a" stroke-width="0.7" />
<line x1="93.85" y1="241.20" x2="93.85" y2="242.60" stroke="#3a3a3a" stroke-width="0.7" />
<line x1="96.30" y1="241.20" x2="96.30" y2="242.60" stroke="#3a3a3a" stroke-width="0.7" />
<line x1="98.20" y1="241.20" x2="98.20" y2="242.60" stroke="#3a3a3a" stroke-width="0.7" />
<line x1="99.75" y1="241.20" x2="99.75" y2="242.60" stroke="#3a3a3a" stroke-width="0.7" />
<line x1="101.06" y1="241.20" x2="101.06" y2="242.60" stroke="#3a3a3a" stroke-width="0.7" />
<line x1="102.20" y1="241.20" x2="102.20" y2="242.60" stroke="#3a3a3a" stroke-width="0.7" />
<line x1="103.20" y1="241.20" x2="103.20" y2="242.60" stroke="#3a3a3a" stroke-width="0.7" />
<line x1="110.00" y1="241.20" x2="110.00" y2="242.60" stroke="#3a3a3a" stroke-width="0.7" />
<line x1="113.45" y1="241.20" x2="113.45" y2="242.60" stroke="#3a3a3a" stroke-width="0.7" />
<line x1="115.90" y1="241.20" x2="115.90" y2="242.60" stroke="#3a3a3a" stroke-width="0.7" />
<line x1="117.80" y1="241.20" x2="117.80" y2="242.60" stroke="#3a3a3a" stroke-width="0.7" />
<line x1="119.35" y1="241.20" x2="119.35" y2="242.60" stroke="#3a3a3a" stroke-width="0.7" />
<line x1="120.66" y1="241.20" x2="120.66" y2="242.60" stroke="#3a3a3a" stroke-width="0.7" />
<line x1="121.80" y1="241.20" x2="121.80" y2="242.60" stroke="#3a3a3a" stroke-width="0.7" />
<line x1="122.80" y1="241.20" x2="122.80" y2="242.60" stroke="#3a3a3a" stroke-width="0.7" />
<line x1="129.60" y1="241.20" x2="129.60" y2="242.60" stroke="#3a3a3a" stroke-width="0.7" />
<line x1="133.05" y1="241.20" x2="133.05" y2="242.60" stroke="#3a3a3a" stroke-width="0.7" />
<line x1="135.50" y1="241.20" x2="135.50" y2="242.60" stroke="#3a3a3a" stroke-width="0.7" />
<line x1="137.40" y1="241.20" x2="137.40" y2="242.60" stroke="#3a3a3a" stroke-width="0.7" />
<line x1="138.95" y1="241.20" x2="138.95" y2="242.60" stroke="#3a3a3a" stroke-width="0.7" />
<line x1="140.26" y1="241.20" x2="140.26" y2="242.60" stroke="#3a3a3a" stroke-width="0.7" />
<line x1="141.40" y1="241.20" x2="141.40" y2="242.60" stroke="#3a3a3a" stroke-width="0.7" />
<line x1="142.40" y1="241.20" x2="142.40" y2="242.60" stroke="#3a3a3a" stroke-width="0.7" />
<line x1="149.20" y1="241.20" x2="149.20" y2="242.60" stroke="#3a3a3a" stroke-width="0.7" />
<line x1="152.65" y1="241.20" x2="152.65" y2="242.60" stroke="#3a3a3a" stroke-width="0.7" />
<line x1="155.10" y1="241.20" x2="155.10" y2="242.60" stroke="#3a3a3a" stroke-width="0.7" />
<line x1="157.00" y1="241.20" x2="157.00" y2="242.60" stroke="#3a3a3a" stroke-width="0.7" />
<line x1="158.55" y1="241.20" x2="158.55" y2="242.60" stroke="#3a3a3a" stroke-width="0.7" />
<line x1="159.86" y1="241.20" x2="159.86" y2="242.60" stroke="#3a3a3a" stroke-width="0.7" />
<line x1="161.00" y1="241.20" x2="161.00" y2="242.60" stroke="#3a3a3a" stroke-width="0.7" />
<line x1="162.00" y1="241.20" x2="162.00" y2="242.60" stroke="#3a3a3a" stroke-width="0.7" />
<line x1="45.40" y1="240.90" x2="46.60" y2="240.90" stroke="#3a3a3a" stroke-width="0.6" />
<line x1="45.40" y1="237.71" x2="46.60" y2="237.71" stroke="#3a3a3a" stroke-width="0.6" />
<line x1="45.40" y1="234.52" x2="46.60" y2="234.52" stroke="#3a3a3a" stroke-width="0.6" />
<line x1="45.40" y1="231.34" x2="46.60" y2="231.34" stroke="#3a3a3a" stroke-width="0.6" />
<line x1="45.40" y1="228.15" x2="46.60" y2="228.15" stroke="#3a3a3a" stroke-width="0.6" />
<line x1="45.40" y1="224.96" x2="46.60" y2="224.96" stroke="#3a3a3a" stroke-width="0.6" />
<line x1="45.40" y1="221.77" x2="46.60" y2="221.77" stroke="#3a3a3a" stroke-width="0.6" />
<line x1="45.40" y1="218.58" x2="46.60" y2="218.58" stroke="#3a3a3a" stroke-width="0.6" />
<line x1="45.40" y1="215.40" x2="46.60" y2="215.40" stroke="#3a3a3a" stroke-width="0.6" />
<line x1="45.40" y1="212.21" x2="46.60" y2="212.21" stroke="#3a3a3a" stroke-width="0.6" />
<line x1="45.40" y1="209.02" x2="46.60" y2="209.02" stroke="#3a3a3a" stroke-width="0.6" />
<line x1="45.40" y1="205.83" x2="46.60" y2="205.83" stroke="#3a3a3a" stroke-width="0.6" />
<line x1="45.40" y1="202.64" x2="46.60" y2="202.64" stroke="#3a3a3a" stroke-width="0.6" />
<line x1="45.40" y1="199.46" x2="46.60" y2="199.46" stroke="#3a3a3a" stroke-width="0.6" />
<line x1="45.40" y1="196.27" x2="46.60" y2="196.27" stroke="#3a3a3a" stroke-width="0.6" />
<line x1="45.40" y1="193.08" x2="46.60" y2="193.08" stroke="#3a3a3a" stroke-width="0.6" />
<line x1="45.40" y1="189.89" x2="46.60" y2="189.89" stroke="#3a3a3a" stroke-width="0.6" />
<line x1="45.40" y1="186.70" x2="46.60" y2="186.70" stroke="#3a3a3a" stroke-width="0.6" />
<line x1="45.40" y1="183.52" x2="46.60" y2="183.52" stroke="#3a3a3a" stroke-width="0.6" />
<line x1="45.40" y1="180.33" x2="46.60" y2="180.33" stroke="#3a3a3a" stroke-width="0.6" />
<line x1="45.40" y1="177.14" x2="46.60" y2="177.14" stroke="#3a3a3a" stroke-width="0.6" />
<line x1="45.40" y1="173.95" x2="46.60" y2="173.95" stroke="#3a3a3a" stroke-width="0.6" />
<line x1="45.40" y1="170.76" x2="46.60" y2="170.76" stroke="#3a3a3a" stroke-width="0.6" />
<line x1="45.40" y1="167.58" x2="46.60" y2="167.58" stroke="#3a3a3a" stroke-width="0.6" />
<line x1="45.40" y1="164.39" x2="46.60" y2="164.39" stroke="#3a3a3a" stroke-width="0.6" />
<line x1="45.40" y1="161.20" x2="46.60" y2="161.20" stroke="#3a3a3a" stroke-width="0.6" />
<text x="45.00" y="253.35" font-size="5.8" fill="#3b3b3b" stroke="#3b3b3b" stroke-width="0.1" text-anchor="middle">10<tspan font-size="3.6" dy="-2.3">0</tspan></text>
<text x="64.60" y="253.35" font-size="5.8" fill="#3b3b3b" stroke="#3b3b3b" stroke-width="0.1" text-anchor="middle">10<tspan font-size="3.6" dy="-2.3">1</tspan></text>
<text x="84.20" y="253.35" font-size="5.8" fill="#3b3b3b" stroke="#3b3b3b" stroke-width="0.1" text-anchor="middle">10<tspan font-size="3.6" dy="-2.3">2</tspan></text>
<text x="103.80" y="253.35" font-size="5.8" fill="#3b3b3b" stroke="#3b3b3b" stroke-width="0.1" text-anchor="middle">10<tspan font-size="3.6" dy="-2.3">3</tspan></text>
<text x="123.40" y="253.35" font-size="5.8" fill="#3b3b3b" stroke="#3b3b3b" stroke-width="0.1" text-anchor="middle">10<tspan font-size="3.6" dy="-2.3">4</tspan></text>
<text x="143.00" y="253.35" font-size="5.8" fill="#3b3b3b" stroke="#3b3b3b" stroke-width="0.1" text-anchor="middle">10<tspan font-size="3.6" dy="-2.3">5</tspan></text>
<text x="105.65" y="265.79" font-size="8.5" fill="#3b3b3b" stroke="#3b3b3b" stroke-width="0.1" text-anchor="middle" textLength="42.5" lengthAdjust="spacingAndGlyphs" >BL1-A :: BL1-A</text>
<text transform="translate(20.60,199.40) rotate(-90)" x="0" y="3.29" text-anchor="middle" font-size="9.2" fill="#3b3b3b" stroke="#3b3b3b" stroke-width="0.1" textLength="61.75" lengthAdjust="spacingAndGlyphs" >Normalized to mode</text>
<text x="103.05" y="153.43" font-size="6.8" fill="#3b3b3b" stroke="#3b3b3b" stroke-width="0.1" text-anchor="middle" textLength="44.5" lengthAdjust="spacingAndGlyphs" >BMDM binding</text>
<text x="102.60" y="159.93" font-size="6.8" fill="#3b3b3b" stroke="#3b3b3b" stroke-width="0.1" text-anchor="middle" textLength="22.8" lengthAdjust="spacingAndGlyphs" ><tspan font-style="italic">P</tspan> = .012</text>
<path d="M45.6,233 L46.8,241" stroke="#c54862" stroke-width="1"/>
<rect x="48.4" y="162.60000000000002" width="3.4" height="3.4" fill="#e3e3e3" stroke="#fff" stroke-width="0.3"/>
<text x="54.30" y="166.73" font-size="6.8" fill="#3b3b3b" stroke="#3b3b3b" stroke-width="0.1" textLength="22.5" lengthAdjust="spacingAndGlyphs" >Control</text>
<rect x="48.4" y="169.9" width="3.4" height="3.4" fill="#e07a82" stroke="#fff" stroke-width="0.3"/>
<text x="54.30" y="174.03" font-size="6.8" fill="#3b3b3b" stroke="#3b3b3b" stroke-width="0.1" textLength="32.9" lengthAdjust="spacingAndGlyphs" >CHO-rVWF</text>
<rect x="48.4" y="176.8" width="3.4" height="3.4" fill="#5b78ad" stroke="#fff" stroke-width="0.3"/>
<text x="54.30" y="180.93" font-size="6.8" fill="#3b3b3b" stroke="#3b3b3b" stroke-width="0.1" textLength="21.7" lengthAdjust="spacingAndGlyphs" >pdVWF</text>
<line x1="220.50" y1="154.10" x2="220.50" y2="238.50" stroke="#3a3a3a" stroke-width="1.2" />
<line x1="217.90" y1="237.90" x2="220.50" y2="237.90" stroke="#3a3a3a" stroke-width="1.0" />
<text x="214.00" y="240.19" font-size="6.4" fill="#3b3b3b" stroke="#3b3b3b" stroke-width="0.1" text-anchor="end" >0.0</text>
<line x1="217.90" y1="211.18" x2="220.50" y2="211.18" stroke="#3a3a3a" stroke-width="1.0" />
<text x="214.00" y="213.47" font-size="6.4" fill="#3b3b3b" stroke="#3b3b3b" stroke-width="0.1" text-anchor="end" >0.4</text>
<line x1="217.90" y1="184.46" x2="220.50" y2="184.46" stroke="#3a3a3a" stroke-width="1.0" />
<text x="214.00" y="186.75" font-size="6.4" fill="#3b3b3b" stroke="#3b3b3b" stroke-width="0.1" text-anchor="end" >0.8</text>
<line x1="217.90" y1="157.74" x2="220.50" y2="157.74" stroke="#3a3a3a" stroke-width="1.0" />
<text x="214.00" y="160.03" font-size="6.4" fill="#3b3b3b" stroke="#3b3b3b" stroke-width="0.1" text-anchor="end" >1.2</text>
<line x1="219.90" y1="237.90" x2="336.00" y2="237.90" stroke="#3a3a3a" stroke-width="1.2" />
<line x1="220.60" y1="237.90" x2="220.60" y2="240.30" stroke="#3a3a3a" stroke-width="1.0" />
<text x="220.60" y="250.19" font-size="6.4" fill="#3b3b3b" stroke="#3b3b3b" stroke-width="0.1" text-anchor="middle" >0</text>
<line x1="243.10" y1="237.90" x2="243.10" y2="240.30" stroke="#3a3a3a" stroke-width="1.0" />
<text x="243.10" y="250.19" font-size="6.4" fill="#3b3b3b" stroke="#3b3b3b" stroke-width="0.1" text-anchor="middle" >2</text>
<line x1="265.60" y1="237.90" x2="265.60" y2="240.30" stroke="#3a3a3a" stroke-width="1.0" />
<text x="265.60" y="250.19" font-size="6.4" fill="#3b3b3b" stroke="#3b3b3b" stroke-width="0.1" text-anchor="middle" >4</text>
<line x1="288.10" y1="237.90" x2="288.10" y2="240.30" stroke="#3a3a3a" stroke-width="1.0" />
<text x="288.10" y="250.19" font-size="6.4" fill="#3b3b3b" stroke="#3b3b3b" stroke-width="0.1" text-anchor="middle" >6</text>
<line x1="310.60" y1="237.90" x2="310.60" y2="240.30" stroke="#3a3a3a" stroke-width="1.0" />
<text x="310.60" y="250.19" font-size="6.4" fill="#3b3b3b" stroke="#3b3b3b" stroke-width="0.1" text-anchor="middle" >8</text>
<line x1="333.10" y1="237.90" x2="333.10" y2="240.30" stroke="#3a3a3a" stroke-width="1.0" />
<text x="333.10" y="250.19" font-size="6.4" fill="#3b3b3b" stroke="#3b3b3b" stroke-width="0.1" text-anchor="middle" >10</text>
<line x1="231.85" y1="237.90" x2="231.85" y2="239.50" stroke="#3a3a3a" stroke-width="0.8" />
<line x1="254.35" y1="237.90" x2="254.35" y2="239.50" stroke="#3a3a3a" stroke-width="0.8" />
<line x1="276.85" y1="237.90" x2="276.85" y2="239.50" stroke="#3a3a3a" stroke-width="0.8" />
<line x1="299.35" y1="237.90" x2="299.35" y2="239.50" stroke="#3a3a3a" stroke-width="0.8" />
<line x1="321.85" y1="237.90" x2="321.85" y2="239.50" stroke="#3a3a3a" stroke-width="0.8" />
<text x="278.40" y="262.24" font-size="8.5" fill="#3b3b3b" stroke="#3b3b3b" stroke-width="0.1" text-anchor="middle" textLength="39.5" lengthAdjust="spacingAndGlyphs" >VWF (µg/ml)</text>
<text transform="translate(197.40,196.25) rotate(-90)" x="0" y="3.15" text-anchor="middle" font-size="8.8" fill="#3b3b3b" stroke="#3b3b3b" stroke-width="0.1" textLength="34.3" lengthAdjust="spacingAndGlyphs" >Abs 450nm</text>
<text x="278.25" y="153.09" font-size="6.4" fill="#3b3b3b" stroke="#3b3b3b" stroke-width="0.1" text-anchor="middle" textLength="13.9" lengthAdjust="spacingAndGlyphs" >MGL</text>
<text x="278.05" y="160.29" font-size="6.4" fill="#3b3b3b" stroke="#3b3b3b" stroke-width="0.1" text-anchor="middle" textLength="22.5" lengthAdjust="spacingAndGlyphs" >P &lt; .001</text>
<path d="M220.60,235.90 L222.47,231.38 L224.35,227.17 L226.22,223.24 L228.10,219.58 L229.97,216.17 L231.85,212.99 L233.72,210.02 L235.60,207.25 L237.47,204.67 L239.35,202.27 L241.22,200.03 L243.10,197.93 L244.97,195.98 L246.85,194.17 L248.72,192.47 L250.60,190.89 L252.47,189.42 L254.35,188.04 L256.23,186.76 L258.10,185.57 L259.98,184.46 L261.85,183.42 L263.73,182.45 L265.60,181.55 L267.48,180.70 L269.35,179.92 L271.23,179.19 L273.10,178.51 L274.98,177.87 L276.85,177.28 L278.73,176.72 L280.60,176.21 L282.48,175.73 L284.35,175.28 L286.23,174.86 L288.10,174.47 L289.98,174.11 L291.85,173.77 L293.73,173.45 L295.60,173.16 L297.48,172.88 L299.35,172.63 L301.23,172.39 L303.10,172.17 L304.98,171.96 L306.85,171.76 L308.73,171.58 L310.60,171.42 L312.48,171.26 L314.35,171.11 L316.23,170.98 L318.10,170.85 L319.98,170.73 L321.85,170.62 L323.73,170.52 L325.60,170.42 L327.48,170.33 L329.35,170.25 L331.23,170.17 L333.10,170.10" stroke="#285a88" stroke-width="1.2" fill="none" />
<path d="M220.60,235.90 L222.47,234.36 L224.35,232.92 L226.22,231.55 L228.10,230.26 L229.97,229.04 L231.85,227.88 L233.72,226.78 L235.60,225.73 L237.47,224.73 L239.35,223.78 L241.22,222.87 L243.10,222.00 L244.97,221.17 L246.85,220.38 L248.72,219.61 L250.60,218.88 L252.47,218.18 L254.35,217.51 L256.23,216.86 L258.10,216.23 L259.98,215.63 L261.85,215.05 L263.73,214.50 L265.60,213.96 L267.48,213.44 L269.35,212.93 L271.23,212.45 L273.10,211.98 L274.98,211.52 L276.85,211.08 L278.73,210.66 L280.60,210.24 L282.48,209.84 L284.35,209.46 L286.23,209.08 L288.10,208.71 L289.98,208.36 L291.85,208.01 L293.73,207.67 L295.60,207.35 L297.48,207.03 L299.35,206.72 L301.23,206.42 L303.10,206.12 L304.98,205.84 L306.85,205.56 L308.73,205.28 L310.60,205.02 L312.48,204.76 L314.35,204.51 L316.23,204.26 L318.10,204.02 L319.98,203.79 L321.85,203.56 L323.73,203.33 L325.60,203.11 L327.48,202.90 L329.35,202.69 L331.23,202.48 L333.10,202.28" stroke="#b8234e" stroke-width="1.2" fill="none" />
<line x1="234.66" y1="203.83" x2="234.66" y2="213.85" stroke="#285a88" stroke-width="0.8" />
<line x1="233.36" y1="203.83" x2="235.96" y2="203.83" stroke="#285a88" stroke-width="0.8" />
<line x1="233.36" y1="213.85" x2="235.96" y2="213.85" stroke="#285a88" stroke-width="0.8" />
<rect x="233.76" y="208.28" width="1.8" height="1.8" fill="#285a88"/>
<line x1="248.72" y1="187.80" x2="248.72" y2="193.81" stroke="#285a88" stroke-width="0.8" />
<line x1="247.42" y1="187.80" x2="250.03" y2="187.80" stroke="#285a88" stroke-width="0.8" />
<line x1="247.42" y1="193.81" x2="250.03" y2="193.81" stroke="#285a88" stroke-width="0.8" />
<rect x="247.82" y="190.91" width="1.8" height="1.8" fill="#285a88"/>
<line x1="276.85" y1="175.11" x2="276.85" y2="179.12" stroke="#285a88" stroke-width="0.8" />
<line x1="275.55" y1="175.11" x2="278.15" y2="175.11" stroke="#285a88" stroke-width="0.8" />
<line x1="275.55" y1="179.12" x2="278.15" y2="179.12" stroke="#285a88" stroke-width="0.8" />
<rect x="275.95" y="176.21" width="1.8" height="1.8" fill="#285a88"/>
<line x1="333.10" y1="167.76" x2="333.10" y2="173.77" stroke="#285a88" stroke-width="0.8" />
<line x1="331.80" y1="167.76" x2="334.40" y2="167.76" stroke="#285a88" stroke-width="0.8" />
<line x1="331.80" y1="173.77" x2="334.40" y2="173.77" stroke="#285a88" stroke-width="0.8" />
<rect x="332.20" y="169.53" width="1.8" height="1.8" fill="#285a88"/>
<line x1="234.66" y1="223.87" x2="234.66" y2="228.55" stroke="#b8234e" stroke-width="0.8" />
<line x1="233.36" y1="223.87" x2="235.96" y2="223.87" stroke="#b8234e" stroke-width="0.8" />
<line x1="233.36" y1="228.55" x2="235.96" y2="228.55" stroke="#b8234e" stroke-width="0.8" />
<rect x="233.76" y="225.64" width="1.8" height="1.8" fill="#b8234e"/>
<line x1="248.72" y1="214.52" x2="248.72" y2="224.54" stroke="#b8234e" stroke-width="0.8" />
<line x1="247.42" y1="214.52" x2="250.03" y2="214.52" stroke="#b8234e" stroke-width="0.8" />
<line x1="247.42" y1="224.54" x2="250.03" y2="224.54" stroke="#b8234e" stroke-width="0.8" />
<rect x="247.82" y="218.96" width="1.8" height="1.8" fill="#b8234e"/>
<line x1="276.85" y1="205.84" x2="276.85" y2="218.53" stroke="#b8234e" stroke-width="0.8" />
<line x1="275.55" y1="205.84" x2="278.15" y2="205.84" stroke="#b8234e" stroke-width="0.8" />
<line x1="275.55" y1="218.53" x2="278.15" y2="218.53" stroke="#b8234e" stroke-width="0.8" />
<rect x="275.95" y="210.95" width="1.8" height="1.8" fill="#b8234e"/>
<line x1="333.10" y1="198.49" x2="333.10" y2="205.17" stroke="#b8234e" stroke-width="0.8" />
<line x1="331.80" y1="198.49" x2="334.40" y2="198.49" stroke="#b8234e" stroke-width="0.8" />
<line x1="331.80" y1="205.17" x2="334.40" y2="205.17" stroke="#b8234e" stroke-width="0.8" />
<rect x="332.20" y="200.93" width="1.8" height="1.8" fill="#b8234e"/>
<line x1="285.50" y1="224.10" x2="294.20" y2="224.10" stroke="#2d5f80" stroke-width="1.1" />
<rect x="289.30" y="223.20" width="1.8" height="1.8" fill="#2d5f80"/>
<line x1="285.50" y1="231.50" x2="294.20" y2="231.50" stroke="#b8234e" stroke-width="1.1" />
<rect x="289.30" y="230.60" width="1.8" height="1.8" fill="#b8234e"/>
<text x="296.90" y="226.53" font-size="6.8" fill="#3b3b3b" stroke="#3b3b3b" stroke-width="0.1" textLength="20.2" lengthAdjust="spacingAndGlyphs" >pdVWF</text>
<text x="296.90" y="233.93" font-size="6.8" fill="#3b3b3b" stroke="#3b3b3b" stroke-width="0.1" textLength="32.3" lengthAdjust="spacingAndGlyphs" >CHO-rVWF</text>
<line x1="394.60" y1="157.90" x2="394.60" y2="241.20" stroke="#3a3a3a" stroke-width="1.2" />
<line x1="391.80" y1="240.60" x2="394.60" y2="240.60" stroke="#3a3a3a" stroke-width="1.0" />
<text x="389.20" y="242.96" font-size="6.6" fill="#3b3b3b" stroke="#3b3b3b" stroke-width="0.1" text-anchor="end" >0</text>
<line x1="391.80" y1="213.75" x2="394.60" y2="213.75" stroke="#3a3a3a" stroke-width="1.0" />
<text x="389.20" y="216.11" font-size="6.6" fill="#3b3b3b" stroke="#3b3b3b" stroke-width="0.1" text-anchor="end" >5</text>
<line x1="391.80" y1="186.90" x2="394.60" y2="186.90" stroke="#3a3a3a" stroke-width="1.0" />
<text x="389.20" y="189.26" font-size="6.6" fill="#3b3b3b" stroke="#3b3b3b" stroke-width="0.1" text-anchor="end" >10</text>
<line x1="391.80" y1="160.05" x2="394.60" y2="160.05" stroke="#3a3a3a" stroke-width="1.0" />
<text x="389.20" y="162.41" font-size="6.6" fill="#3b3b3b" stroke="#3b3b3b" stroke-width="0.1" text-anchor="end" >15</text>
<line x1="394.60" y1="240.60" x2="507.50" y2="240.60" stroke="#3a3a3a" stroke-width="1.3" />
<rect x="403.75" y="182.5" width="17.50" height="58.10" fill="#8799c6"/>
<line x1="412.50" y1="240.60" x2="412.50" y2="243.60" stroke="#3a3a3a" stroke-width="0.9" />
<rect x="424.3" y="206.5" width="17.40" height="34.10" fill="#8799c6"/>
<line x1="433.00" y1="240.60" x2="433.00" y2="243.60" stroke="#3a3a3a" stroke-width="0.9" />
<rect x="460.2" y="200.2" width="17.00" height="40.40" fill="#e8877c"/>
<line x1="468.70" y1="240.60" x2="468.70" y2="243.60" stroke="#3a3a3a" stroke-width="0.9" />
<rect x="480.3" y="198" width="17.20" height="42.60" fill="#e8877c"/>
<line x1="488.90" y1="240.60" x2="488.90" y2="243.60" stroke="#3a3a3a" stroke-width="0.9" />
<line x1="412.50" y1="177.50" x2="412.50" y2="187.25" stroke="#2a2a2a" stroke-width="0.9" />
<line x1="408.10" y1="177.50" x2="416.90" y2="177.50" stroke="#2a2a2a" stroke-width="0.9" />
<line x1="408.10" y1="187.25" x2="416.90" y2="187.25" stroke="#2a2a2a" stroke-width="0.9" />
<line x1="433.00" y1="202.30" x2="433.00" y2="210.60" stroke="#2a2a2a" stroke-width="0.9" />
<line x1="428.70" y1="202.30" x2="437.30" y2="202.30" stroke="#2a2a2a" stroke-width="0.9" />
<line x1="428.70" y1="210.60" x2="437.30" y2="210.60" stroke="#2a2a2a" stroke-width="0.9" />
<line x1="468.50" y1="195.20" x2="468.50" y2="204.40" stroke="#2a2a2a" stroke-width="0.9" />
<line x1="464.15" y1="195.20" x2="472.85" y2="195.20" stroke="#2a2a2a" stroke-width="0.9" />
<line x1="464.15" y1="204.40" x2="472.85" y2="204.40" stroke="#2a2a2a" stroke-width="0.9" />
<line x1="489.20" y1="190.50" x2="489.20" y2="204.90" stroke="#2a2a2a" stroke-width="0.9" />
<line x1="485.10" y1="190.50" x2="493.30" y2="190.50" stroke="#2a2a2a" stroke-width="0.9" />
<line x1="485.10" y1="204.90" x2="493.30" y2="204.90" stroke="#2a2a2a" stroke-width="0.9" />
<circle cx="412.50" cy="169.50" r="1.1" fill="#111"/>
<circle cx="412.50" cy="171.60" r="1.1" fill="#111"/>
<circle cx="412.50" cy="175.40" r="1.1" fill="#111"/>
<circle cx="410.00" cy="190.75" r="1.1" fill="#111"/>
<circle cx="415.60" cy="190.75" r="1.1" fill="#111"/>
<circle cx="412.50" cy="196.60" r="1.1" fill="#111"/>
<circle cx="433.00" cy="191.90" r="1.1" fill="#111"/>
<circle cx="435.20" cy="200.20" r="1.1" fill="#111"/>
<circle cx="430.40" cy="202.30" r="1.1" fill="#111"/>
<circle cx="430.70" cy="205.40" r="1.1" fill="#111"/>
<circle cx="433.00" cy="218.70" r="1.1" fill="#111"/>
<circle cx="433.00" cy="222.20" r="1.1" fill="#111"/>
<circle cx="468.75" cy="169.75" r="1.1" fill="#111"/>
<circle cx="468.75" cy="173.10" r="1.1" fill="#111"/>
<circle cx="468.80" cy="190.50" r="1.1" fill="#111"/>
<circle cx="465.30" cy="202.30" r="1.1" fill="#111"/>
<circle cx="468.80" cy="200.60" r="1.1" fill="#111"/>
<circle cx="471.90" cy="204.00" r="1.1" fill="#111"/>
<circle cx="465.30" cy="207.10" r="1.1" fill="#111"/>
<circle cx="470.20" cy="207.50" r="1.1" fill="#111"/>
<circle cx="468.80" cy="209.20" r="1.1" fill="#111"/>
<circle cx="465.30" cy="211.30" r="1.1" fill="#111"/>
<circle cx="471.90" cy="211.80" r="1.1" fill="#111"/>
<circle cx="468.80" cy="217.00" r="1.1" fill="#111"/>
<circle cx="488.70" cy="179.40" r="1.1" fill="#111"/>
<circle cx="488.70" cy="184.90" r="1.1" fill="#111"/>
<circle cx="489.20" cy="200.60" r="1.1" fill="#111"/>
<circle cx="489.20" cy="206.60" r="1.1" fill="#111"/>
<circle cx="489.20" cy="217.00" r="1.1" fill="#111"/>
<text x="412.20" y="252.93" font-size="6.8" fill="#3b3b3b" stroke="#3b3b3b" stroke-width="0.1" text-anchor="middle" textLength="9.3" lengthAdjust="spacingAndGlyphs" >WT</text>
<text x="468.65" y="252.93" font-size="6.8" fill="#3b3b3b" stroke="#3b3b3b" stroke-width="0.1" text-anchor="middle" textLength="9.3" lengthAdjust="spacingAndGlyphs" >WT</text>
<text x="421.3" y="252.86" font-size="6.8" fill="#3b3b3b" stroke="#3b3b3b" stroke-width="0.1" font-style="italic" textLength="17.2" lengthAdjust="spacingAndGlyphs">MGL1</text>
<text x="439.00" y="249.40" font-size="3.4" fill="#3b3b3b" stroke="#3b3b3b" stroke-width="0.1">−/−</text>
<text x="477.3" y="252.86" font-size="6.8" fill="#3b3b3b" stroke="#3b3b3b" stroke-width="0.1" font-style="italic" textLength="17.2" lengthAdjust="spacingAndGlyphs">MGL1</text>
<text x="495.00" y="249.40" font-size="3.4" fill="#3b3b3b" stroke="#3b3b3b" stroke-width="0.1">−/−</text>
<text x="422.70" y="263.33" font-size="6.8" fill="#3b3b3b" stroke="#3b3b3b" stroke-width="0.1" text-anchor="middle" textLength="20.7" lengthAdjust="spacingAndGlyphs" >BMDM</text>
<text x="479.05" y="263.13" font-size="6.8" fill="#3b3b3b" stroke="#3b3b3b" stroke-width="0.1" text-anchor="middle" textLength="20.3" lengthAdjust="spacingAndGlyphs" >BMDM</text>
<text x="422.20" y="153.43" font-size="6.8" fill="#3b3b3b" stroke="#3b3b3b" stroke-width="0.1" text-anchor="middle" textLength="21.85" lengthAdjust="spacingAndGlyphs" >pdVWF</text>
<text x="422.60" y="160.53" font-size="6.8" fill="#3b3b3b" stroke="#3b3b3b" stroke-width="0.1" text-anchor="middle" textLength="24.25" lengthAdjust="spacingAndGlyphs" ><tspan font-style="italic">P</tspan> = .003</text>
<text x="480.00" y="153.33" font-size="6.8" fill="#3b3b3b" stroke="#3b3b3b" stroke-width="0.1" text-anchor="middle" textLength="34.2" lengthAdjust="spacingAndGlyphs" >CHO-rVWF</text>
<text x="478.95" y="160.43" font-size="6.8" fill="#3b3b3b" stroke="#3b3b3b" stroke-width="0.1" text-anchor="middle" textLength="23.9" lengthAdjust="spacingAndGlyphs" ><tspan font-style="italic">P</tspan> = .781</text>
<text transform="translate(372.40,197.20) rotate(-90)" x="0" y="3.15" text-anchor="middle" font-size="8.8" fill="#3b3b3b" stroke="#3b3b3b" stroke-width="0.1" textLength="51.15" lengthAdjust="spacingAndGlyphs" >Normalized MFI</text>
<line x1="50.60" y1="294.50" x2="50.60" y2="378.10" stroke="#3a3a3a" stroke-width="1.2" />
<line x1="47.80" y1="377.50" x2="50.60" y2="377.50" stroke="#3a3a3a" stroke-width="1.0" />
<text x="45.30" y="379.79" font-size="6.4" fill="#3b3b3b" stroke="#3b3b3b" stroke-width="0.1" text-anchor="end" >0</text>
<line x1="47.80" y1="361.40" x2="50.60" y2="361.40" stroke="#3a3a3a" stroke-width="1.0" />
<text x="45.30" y="363.69" font-size="6.4" fill="#3b3b3b" stroke="#3b3b3b" stroke-width="0.1" text-anchor="end" >20</text>
<line x1="47.80" y1="345.30" x2="50.60" y2="345.30" stroke="#3a3a3a" stroke-width="1.0" />
<text x="45.30" y="347.59" font-size="6.4" fill="#3b3b3b" stroke="#3b3b3b" stroke-width="0.1" text-anchor="end" >40</text>
<line x1="47.80" y1="329.20" x2="50.60" y2="329.20" stroke="#3a3a3a" stroke-width="1.0" />
<text x="45.30" y="331.49" font-size="6.4" fill="#3b3b3b" stroke="#3b3b3b" stroke-width="0.1" text-anchor="end" >60</text>
<line x1="47.80" y1="313.10" x2="50.60" y2="313.10" stroke="#3a3a3a" stroke-width="1.0" />
<text x="45.30" y="315.39" font-size="6.4" fill="#3b3b3b" stroke="#3b3b3b" stroke-width="0.1" text-anchor="end" >80</text>
<line x1="47.80" y1="297.00" x2="50.60" y2="297.00" stroke="#3a3a3a" stroke-width="1.0" />
<text x="45.30" y="299.29" font-size="6.4" fill="#3b3b3b" stroke="#3b3b3b" stroke-width="0.1" text-anchor="end" >100</text>
<line x1="50.00" y1="377.50" x2="165.50" y2="377.50" stroke="#3a3a3a" stroke-width="1.2" />
<line x1="50.60" y1="377.50" x2="50.60" y2="380.30" stroke="#3a3a3a" stroke-width="1.0" />
<text x="50.60" y="389.39" font-size="6.4" fill="#3b3b3b" stroke="#3b3b3b" stroke-width="0.1" text-anchor="middle" >0</text>
<line x1="88.20" y1="377.50" x2="88.20" y2="380.30" stroke="#3a3a3a" stroke-width="1.0" />
<text x="88.20" y="389.39" font-size="6.4" fill="#3b3b3b" stroke="#3b3b3b" stroke-width="0.1" text-anchor="middle" >1</text>
<line x1="125.80" y1="377.50" x2="125.80" y2="380.30" stroke="#3a3a3a" stroke-width="1.0" />
<text x="125.80" y="389.39" font-size="6.4" fill="#3b3b3b" stroke="#3b3b3b" stroke-width="0.1" text-anchor="middle" >2</text>
<line x1="163.40" y1="377.50" x2="163.40" y2="380.30" stroke="#3a3a3a" stroke-width="1.0" />
<text x="163.40" y="389.39" font-size="6.4" fill="#3b3b3b" stroke="#3b3b3b" stroke-width="0.1" text-anchor="middle" >3</text>
<text x="109.10" y="400.34" font-size="8.5" fill="#3b3b3b" stroke="#3b3b3b" stroke-width="0.1" text-anchor="middle" textLength="38.8" lengthAdjust="spacingAndGlyphs" >Time (hours)</text>
<text transform="translate(26.20,335.60) rotate(-90)" x="0" y="3.08" text-anchor="middle" font-size="8.6" fill="#3b3b3b" stroke="#3b3b3b" stroke-width="0.1" textLength="53.35" lengthAdjust="spacingAndGlyphs" >Residual VWF (%)</text>
<line x1="69.40" y1="307.46" x2="69.40" y2="329.20" stroke="#4a8ea5" stroke-width="0.7" />
<line x1="68.20" y1="307.46" x2="70.60" y2="307.46" stroke="#4a8ea5" stroke-width="0.7" />
<line x1="68.20" y1="329.20" x2="70.60" y2="329.20" stroke="#4a8ea5" stroke-width="0.7" />
<line x1="88.20" y1="321.15" x2="88.20" y2="342.88" stroke="#4a8ea5" stroke-width="0.7" />
<line x1="87.00" y1="321.15" x2="89.40" y2="321.15" stroke="#4a8ea5" stroke-width="0.7" />
<line x1="87.00" y1="342.88" x2="89.40" y2="342.88" stroke="#4a8ea5" stroke-width="0.7" />
<line x1="107.00" y1="352.55" x2="107.00" y2="359.79" stroke="#4a8ea5" stroke-width="0.7" />
<line x1="105.80" y1="352.55" x2="108.20" y2="352.55" stroke="#4a8ea5" stroke-width="0.7" />
<line x1="105.80" y1="359.79" x2="108.20" y2="359.79" stroke="#4a8ea5" stroke-width="0.7" />
<line x1="163.40" y1="360.60" x2="163.40" y2="367.04" stroke="#4a8ea5" stroke-width="0.7" />
<line x1="162.20" y1="360.60" x2="164.60" y2="360.60" stroke="#4a8ea5" stroke-width="0.7" />
<line x1="162.20" y1="367.04" x2="164.60" y2="367.04" stroke="#4a8ea5" stroke-width="0.7" />
<line x1="69.40" y1="307.06" x2="69.40" y2="332.74" stroke="#e06a7c" stroke-width="0.7" />
<line x1="68.20" y1="307.06" x2="70.60" y2="307.06" stroke="#e06a7c" stroke-width="0.7" />
<line x1="68.20" y1="332.74" x2="70.60" y2="332.74" stroke="#e06a7c" stroke-width="0.7" />
<line x1="88.20" y1="321.15" x2="88.20" y2="344.01" stroke="#e06a7c" stroke-width="0.7" />
<line x1="87.00" y1="321.15" x2="89.40" y2="321.15" stroke="#e06a7c" stroke-width="0.7" />
<line x1="87.00" y1="344.01" x2="89.40" y2="344.01" stroke="#e06a7c" stroke-width="0.7" />
<line x1="107.00" y1="346.51" x2="107.00" y2="360.35" stroke="#e06a7c" stroke-width="0.7" />
<line x1="105.80" y1="346.51" x2="108.20" y2="346.51" stroke="#e06a7c" stroke-width="0.7" />
<line x1="105.80" y1="360.35" x2="108.20" y2="360.35" stroke="#e06a7c" stroke-width="0.7" />
<line x1="163.40" y1="350.53" x2="163.40" y2="366.23" stroke="#e06a7c" stroke-width="0.7" />
<line x1="162.20" y1="350.53" x2="164.60" y2="350.53" stroke="#e06a7c" stroke-width="0.7" />
<line x1="162.20" y1="366.23" x2="164.60" y2="366.23" stroke="#e06a7c" stroke-width="0.7" />
<path d="M50.60,297.00 L52.48,301.13 L54.36,305.03 L56.24,308.71 L58.12,312.17 L60.00,315.44 L61.88,318.52 L63.76,321.43 L65.64,324.17 L67.52,326.75 L69.40,329.19 L71.28,331.49 L73.16,333.65 L75.04,335.69 L76.92,337.62 L78.80,339.44 L80.68,341.15 L82.56,342.76 L84.44,344.29 L86.32,345.72 L88.20,347.08 L90.08,348.35 L91.96,349.56 L93.84,350.69 L95.72,351.76 L97.60,352.77 L99.48,353.72 L101.36,354.62 L103.24,355.47 L105.12,356.26 L107.00,357.02 L108.88,357.73 L110.76,358.39 L112.64,359.03 L114.52,359.62 L116.40,360.18 L118.28,360.71 L120.16,361.21 L122.04,361.68 L123.92,362.12 L125.80,362.54 L127.68,362.93 L129.56,363.31 L131.44,363.66 L133.32,363.99 L135.20,364.30 L137.08,364.59 L138.96,364.87 L140.84,365.13 L142.72,365.38 L144.60,365.61 L146.48,365.83 L148.36,366.04 L150.24,366.23 L152.12,366.41 L154.00,366.59 L155.88,366.75 L157.76,366.90 L159.64,367.05 L161.52,367.19 L163.40,367.32" stroke="#4a8ea5" stroke-width="1.0" fill="none" />
<path d="M50.60,297.00 L52.48,300.10 L54.36,303.05 L56.24,305.86 L58.12,308.53 L60.00,311.07 L61.88,313.48 L63.76,315.78 L65.64,317.97 L67.52,320.05 L69.40,322.02 L71.28,323.90 L73.16,325.69 L75.04,327.40 L76.92,329.01 L78.80,330.55 L80.68,332.02 L82.56,333.41 L84.44,334.74 L86.32,336.00 L88.20,337.20 L90.08,338.34 L91.96,339.43 L93.84,340.46 L95.72,341.44 L97.60,342.37 L99.48,343.26 L101.36,344.11 L103.24,344.91 L105.12,345.68 L107.00,346.41 L108.88,347.10 L110.76,347.76 L112.64,348.38 L114.52,348.98 L116.40,349.54 L118.28,350.08 L120.16,350.60 L122.04,351.08 L123.92,351.55 L125.80,351.99 L127.68,352.41 L129.56,352.81 L131.44,353.19 L133.32,353.55 L135.20,353.89 L137.08,354.22 L138.96,354.53 L140.84,354.83 L142.72,355.11 L144.60,355.37 L146.48,355.63 L148.36,355.87 L150.24,356.10 L152.12,356.32 L154.00,356.53 L155.88,356.73 L157.76,356.92 L159.64,357.10 L161.52,357.27 L163.40,357.43" stroke="#e06a7c" stroke-width="1.2" fill="none" stroke-dasharray="1.2,0.9"/>
<path d="M50.60,297.00 L52.48,300.34 L54.36,303.50 L56.24,306.50 L58.12,309.34 L60.00,312.04 L61.88,314.60 L63.76,317.02 L65.64,319.32 L67.52,321.50 L69.40,323.57 L71.28,325.53 L73.16,327.39 L75.04,329.15 L76.92,330.82 L78.80,332.41 L80.68,333.91 L82.56,335.33 L84.44,336.68 L86.32,337.96 L88.20,339.18 L90.08,340.33 L91.96,341.42 L93.84,342.46 L95.72,343.44 L97.60,344.37 L99.48,345.25 L101.36,346.09 L103.24,346.88 L105.12,347.63 L107.00,348.35 L108.88,349.02 L110.76,349.66 L112.64,350.27 L114.52,350.85 L116.40,351.39 L118.28,351.91 L120.16,352.40 L122.04,352.87 L123.92,353.31 L125.80,353.73 L127.68,354.13 L129.56,354.51 L131.44,354.86 L133.32,355.20 L135.20,355.52 L137.08,355.83 L138.96,356.12 L140.84,356.39 L142.72,356.65 L144.60,356.90 L146.48,357.13 L148.36,357.35 L150.24,357.56 L152.12,357.76 L154.00,357.95 L155.88,358.13 L157.76,358.30 L159.64,358.46 L161.52,358.61 L163.40,358.75" stroke="#a8223e" stroke-width="1.15" fill="none" />
<line x1="69.40" y1="326.78" x2="69.40" y2="331.62" stroke="#1e3f6a" stroke-width="0.8" />
<line x1="68.20" y1="326.78" x2="70.60" y2="326.78" stroke="#1e3f6a" stroke-width="0.8" />
<line x1="68.20" y1="331.62" x2="70.60" y2="331.62" stroke="#1e3f6a" stroke-width="0.8" />
<rect x="68.50" y="328.30" width="1.8" height="1.8" fill="#1e3f6a"/>
<line x1="88.20" y1="347.71" x2="88.20" y2="358.18" stroke="#1e3f6a" stroke-width="0.8" />
<line x1="87.00" y1="347.71" x2="89.40" y2="347.71" stroke="#1e3f6a" stroke-width="0.8" />
<line x1="87.00" y1="358.18" x2="89.40" y2="358.18" stroke="#1e3f6a" stroke-width="0.8" />
<rect x="87.30" y="351.40" width="1.8" height="1.8" fill="#1e3f6a"/>
<line x1="107.00" y1="353.35" x2="107.00" y2="358.99" stroke="#1e3f6a" stroke-width="0.8" />
<line x1="105.80" y1="353.35" x2="108.20" y2="353.35" stroke="#1e3f6a" stroke-width="0.8" />
<line x1="105.80" y1="358.99" x2="108.20" y2="358.99" stroke="#1e3f6a" stroke-width="0.8" />
<rect x="106.10" y="355.99" width="1.8" height="1.8" fill="#1e3f6a"/>
<line x1="163.40" y1="363.81" x2="163.40" y2="369.45" stroke="#1e3f6a" stroke-width="0.8" />
<line x1="162.20" y1="363.81" x2="164.60" y2="363.81" stroke="#1e3f6a" stroke-width="0.8" />
<line x1="162.20" y1="369.45" x2="164.60" y2="369.45" stroke="#1e3f6a" stroke-width="0.8" />
<rect x="162.50" y="365.33" width="1.8" height="1.8" fill="#1e3f6a"/>
<line x1="69.40" y1="316.32" x2="69.40" y2="324.37" stroke="#a8223e" stroke-width="0.8" />
<line x1="68.20" y1="316.32" x2="70.60" y2="316.32" stroke="#a8223e" stroke-width="0.8" />
<line x1="68.20" y1="324.37" x2="70.60" y2="324.37" stroke="#a8223e" stroke-width="0.8" />
<rect x="68.50" y="319.12" width="1.8" height="1.8" fill="#a8223e"/>
<line x1="88.20" y1="335.64" x2="88.20" y2="341.27" stroke="#a8223e" stroke-width="0.8" />
<line x1="87.00" y1="335.64" x2="89.40" y2="335.64" stroke="#a8223e" stroke-width="0.8" />
<line x1="87.00" y1="341.27" x2="89.40" y2="341.27" stroke="#a8223e" stroke-width="0.8" />
<rect x="87.30" y="337.64" width="1.8" height="1.8" fill="#a8223e"/>
<line x1="107.00" y1="347.71" x2="107.00" y2="352.55" stroke="#a8223e" stroke-width="0.8" />
<line x1="105.80" y1="347.71" x2="108.20" y2="347.71" stroke="#a8223e" stroke-width="0.8" />
<line x1="105.80" y1="352.55" x2="108.20" y2="352.55" stroke="#a8223e" stroke-width="0.8" />
<rect x="106.10" y="349.07" width="1.8" height="1.8" fill="#a8223e"/>
<line x1="163.40" y1="355.76" x2="163.40" y2="360.60" stroke="#a8223e" stroke-width="0.8" />
<line x1="162.20" y1="355.76" x2="164.60" y2="355.76" stroke="#a8223e" stroke-width="0.8" />
<line x1="162.20" y1="360.60" x2="164.60" y2="360.60" stroke="#a8223e" stroke-width="0.8" />
<rect x="162.50" y="357.12" width="1.8" height="1.8" fill="#a8223e"/>
<rect x="49.60" y="296.00" width="2" height="2" fill="#a8223e"/>
<line x1="92.90" y1="300.65" x2="100.30" y2="300.65" stroke="#1e3f6a" stroke-width="1.1" />
<rect x="95.70" y="299.75" width="1.8" height="1.8" fill="#1e3f6a"/>
<text x="103.00" y="303.08" font-size="6.8" fill="#3b3b3b" stroke="#3b3b3b" stroke-width="0.1" textLength="40.1" lengthAdjust="spacingAndGlyphs">WT + pdVWF</text>
<line x1="92.90" y1="309.10" x2="100.30" y2="309.10" stroke="#4a8ea5" stroke-width="1.1" />
<rect x="95.70" y="308.20" width="1.8" height="1.8" fill="#4a8ea5"/>
<text x="103.00" y="311.53" font-size="6.8" fill="#3b3b3b" stroke="#3b3b3b" stroke-width="0.1" font-style="italic" textLength="19.2" lengthAdjust="spacingAndGlyphs">MGL1</text>
<text x="122.20" y="308.20" font-size="3.4" fill="#3b3b3b" stroke="#3b3b3b" stroke-width="0.1" textLength="4.7" lengthAdjust="spacingAndGlyphs">−/−</text>
<text x="128.90" y="311.53" font-size="6.8" fill="#3b3b3b" stroke="#3b3b3b" stroke-width="0.1" textLength="28.3" lengthAdjust="spacingAndGlyphs">+ pdVWF</text>
<line x1="92.90" y1="317.20" x2="100.30" y2="317.20" stroke="#a8223e" stroke-width="1.1" />
<rect x="95.70" y="316.30" width="1.8" height="1.8" fill="#a8223e"/>
<text x="103.00" y="319.63" font-size="6.8" fill="#3b3b3b" stroke="#3b3b3b" stroke-width="0.1" textLength="50.8" lengthAdjust="spacingAndGlyphs">WT + CHO-rVWF</text>
<line x1="92.90" y1="326.00" x2="100.30" y2="326.00" stroke="#e06a7c" stroke-width="1.1" stroke-dasharray="1.3,1"/>
<rect x="95.70" y="325.10" width="1.8" height="1.8" fill="#e06a7c"/>
<text x="103.00" y="328.43" font-size="6.8" fill="#3b3b3b" stroke="#3b3b3b" stroke-width="0.1" font-style="italic" textLength="19.2" lengthAdjust="spacingAndGlyphs">MGL1</text>
<text x="122.20" y="325.10" font-size="3.4" fill="#3b3b3b" stroke="#3b3b3b" stroke-width="0.1" textLength="4.7" lengthAdjust="spacingAndGlyphs">−/−</text>
<text x="128.90" y="328.43" font-size="6.8" fill="#3b3b3b" stroke="#3b3b3b" stroke-width="0.1" textLength="38.4" lengthAdjust="spacingAndGlyphs">+ CHO-rVWF</text>
<path d="M223.00,377.00 L224.25,373.10 L231.75,373.10 L235.00,370.00 L238.00,365.00 L243.00,361.50 L248.00,358.75 L250.00,354.00 L251.75,348.75 L253.00,338.00 L254.25,330.00 L255.50,328.75 L257.40,326.90 L259.25,321.25 L261.10,326.90 L263.00,333.75 L264.90,342.50 L266.00,355.00 L267.50,368.00 L269.00,375.00 L271.00,377.00 Z" fill="#e4e7e9" fill-opacity="1.0" stroke="#c4d6db" stroke-width="0.8" stroke-linejoin="round"/>
<path d="M250.00,377.00 L255.50,373.75 L260.50,371.25 L265.50,368.75 L270.50,362.50 L275.50,355.00 L280.50,342.50 L282.60,340.00 L285.00,335.50 L287.30,323.20 L289.60,321.60 L291.90,314.70 L295.00,310.00 L297.30,315.40 L299.60,320.00 L301.90,322.40 L303.50,329.30 L305.80,336.30 L309.60,354.00 L313.50,360.20 L318.10,369.50 L324.30,375.70 L329.00,376.80 L331.00,377.00 Z" fill="#c2cae3" fill-opacity="1.0" stroke="#58749a" stroke-width="0.9" stroke-linejoin="round"/>
<path d="M223.00,377.00 L240.50,376.25 L248.00,369.40 L251.75,368.75 L255.50,365.00 L260.50,356.25 L264.25,346.25 L267.40,333.75 L270.50,324.40 L273.00,325.00 L276.10,326.90 L278.60,318.75 L280.30,329.30 L282.60,325.50 L285.00,330.90 L287.30,341.70 L291.90,346.30 L295.00,360.20 L299.60,369.50 L305.80,375.70 L308.00,377.00 Z" fill="#eba08b" fill-opacity="0.66" stroke="#b9506a" stroke-width="0.9" stroke-linejoin="round"/>
<path d="M222.4,377 L223.4,367.5 L224.4,377" stroke="#7a2a40" stroke-width="0.9" fill="#c54862"/>
<line x1="221.90" y1="294.50" x2="221.90" y2="377.80" stroke="#3a3a3a" stroke-width="1.2" />
<line x1="219.30" y1="377.00" x2="221.90" y2="377.00" stroke="#3a3a3a" stroke-width="1.0" />
<text x="215.60" y="379.29" font-size="6.4" fill="#3b3b3b" stroke="#3b3b3b" stroke-width="0.1" text-anchor="end" >0</text>
<line x1="219.30" y1="361.00" x2="221.90" y2="361.00" stroke="#3a3a3a" stroke-width="1.0" />
<text x="215.60" y="363.29" font-size="6.4" fill="#3b3b3b" stroke="#3b3b3b" stroke-width="0.1" text-anchor="end" >20</text>
<line x1="219.30" y1="345.00" x2="221.90" y2="345.00" stroke="#3a3a3a" stroke-width="1.0" />
<text x="215.60" y="347.29" font-size="6.4" fill="#3b3b3b" stroke="#3b3b3b" stroke-width="0.1" text-anchor="end" >40</text>
<line x1="219.30" y1="329.00" x2="221.90" y2="329.00" stroke="#3a3a3a" stroke-width="1.0" />
<text x="215.60" y="331.29" font-size="6.4" fill="#3b3b3b" stroke="#3b3b3b" stroke-width="0.1" text-anchor="end" >60</text>
<line x1="219.30" y1="313.00" x2="221.90" y2="313.00" stroke="#3a3a3a" stroke-width="1.0" />
<text x="215.60" y="315.29" font-size="6.4" fill="#3b3b3b" stroke="#3b3b3b" stroke-width="0.1" text-anchor="end" >80</text>
<line x1="219.30" y1="297.00" x2="221.90" y2="297.00" stroke="#3a3a3a" stroke-width="1.0" />
<text x="215.60" y="299.29" font-size="6.4" fill="#3b3b3b" stroke="#3b3b3b" stroke-width="0.1" text-anchor="end" >100</text>
<line x1="221.30" y1="377.20" x2="345.00" y2="377.20" stroke="#3a3a3a" stroke-width="1.3" />
<line x1="228.60" y1="377.20" x2="228.60" y2="379.60" stroke="#3a3a3a" stroke-width="1.0" />
<line x1="257.32" y1="377.20" x2="257.32" y2="379.60" stroke="#3a3a3a" stroke-width="1.0" />
<line x1="286.04" y1="377.20" x2="286.04" y2="379.60" stroke="#3a3a3a" stroke-width="1.0" />
<line x1="314.76" y1="377.20" x2="314.76" y2="379.60" stroke="#3a3a3a" stroke-width="1.0" />
<line x1="224.15" y1="377.20" x2="224.15" y2="378.60" stroke="#3a3a3a" stroke-width="0.7" />
<line x1="225.82" y1="377.20" x2="225.82" y2="378.60" stroke="#3a3a3a" stroke-width="0.7" />
<line x1="227.29" y1="377.20" x2="227.29" y2="378.60" stroke="#3a3a3a" stroke-width="0.7" />
<line x1="237.25" y1="377.20" x2="237.25" y2="378.60" stroke="#3a3a3a" stroke-width="0.7" />
<line x1="242.30" y1="377.20" x2="242.30" y2="378.60" stroke="#3a3a3a" stroke-width="0.7" />
<line x1="245.89" y1="377.20" x2="245.89" y2="378.60" stroke="#3a3a3a" stroke-width="0.7" />
<line x1="248.67" y1="377.20" x2="248.67" y2="378.60" stroke="#3a3a3a" stroke-width="0.7" />
<line x1="250.95" y1="377.20" x2="250.95" y2="378.60" stroke="#3a3a3a" stroke-width="0.7" />
<line x1="252.87" y1="377.20" x2="252.87" y2="378.60" stroke="#3a3a3a" stroke-width="0.7" />
<line x1="254.54" y1="377.20" x2="254.54" y2="378.60" stroke="#3a3a3a" stroke-width="0.7" />
<line x1="256.01" y1="377.20" x2="256.01" y2="378.60" stroke="#3a3a3a" stroke-width="0.7" />
<line x1="265.97" y1="377.20" x2="265.97" y2="378.60" stroke="#3a3a3a" stroke-width="0.7" />
<line x1="271.02" y1="377.20" x2="271.02" y2="378.60" stroke="#3a3a3a" stroke-width="0.7" />
<line x1="274.61" y1="377.20" x2="274.61" y2="378.60" stroke="#3a3a3a" stroke-width="0.7" />
<line x1="277.39" y1="377.20" x2="277.39" y2="378.60" stroke="#3a3a3a" stroke-width="0.7" />
<line x1="279.67" y1="377.20" x2="279.67" y2="378.60" stroke="#3a3a3a" stroke-width="0.7" />
<line x1="281.59" y1="377.20" x2="281.59" y2="378.60" stroke="#3a3a3a" stroke-width="0.7" />
<line x1="283.26" y1="377.20" x2="283.26" y2="378.60" stroke="#3a3a3a" stroke-width="0.7" />
<line x1="284.73" y1="377.20" x2="284.73" y2="378.60" stroke="#3a3a3a" stroke-width="0.7" />
<line x1="294.69" y1="377.20" x2="294.69" y2="378.60" stroke="#3a3a3a" stroke-width="0.7" />
<line x1="299.74" y1="377.20" x2="299.74" y2="378.60" stroke="#3a3a3a" stroke-width="0.7" />
<line x1="303.33" y1="377.20" x2="303.33" y2="378.60" stroke="#3a3a3a" stroke-width="0.7" />
<line x1="306.11" y1="377.20" x2="306.11" y2="378.60" stroke="#3a3a3a" stroke-width="0.7" />
<line x1="308.39" y1="377.20" x2="308.39" y2="378.60" stroke="#3a3a3a" stroke-width="0.7" />
<line x1="310.31" y1="377.20" x2="310.31" y2="378.60" stroke="#3a3a3a" stroke-width="0.7" />
<line x1="311.98" y1="377.20" x2="311.98" y2="378.60" stroke="#3a3a3a" stroke-width="0.7" />
<line x1="313.45" y1="377.20" x2="313.45" y2="378.60" stroke="#3a3a3a" stroke-width="0.7" />
<line x1="323.41" y1="377.20" x2="323.41" y2="378.60" stroke="#3a3a3a" stroke-width="0.7" />
<line x1="328.46" y1="377.20" x2="328.46" y2="378.60" stroke="#3a3a3a" stroke-width="0.7" />
<line x1="332.05" y1="377.20" x2="332.05" y2="378.60" stroke="#3a3a3a" stroke-width="0.7" />
<line x1="334.83" y1="377.20" x2="334.83" y2="378.60" stroke="#3a3a3a" stroke-width="0.7" />
<line x1="337.11" y1="377.20" x2="337.11" y2="378.60" stroke="#3a3a3a" stroke-width="0.7" />
<line x1="339.03" y1="377.20" x2="339.03" y2="378.60" stroke="#3a3a3a" stroke-width="0.7" />
<line x1="340.70" y1="377.20" x2="340.70" y2="378.60" stroke="#3a3a3a" stroke-width="0.7" />
<line x1="342.17" y1="377.20" x2="342.17" y2="378.60" stroke="#3a3a3a" stroke-width="0.7" />
<line x1="221.90" y1="377.00" x2="223.10" y2="377.00" stroke="#3a3a3a" stroke-width="0.6" />
<line x1="221.90" y1="373.80" x2="223.10" y2="373.80" stroke="#3a3a3a" stroke-width="0.6" />
<line x1="221.90" y1="370.60" x2="223.10" y2="370.60" stroke="#3a3a3a" stroke-width="0.6" />
<line x1="221.90" y1="367.40" x2="223.10" y2="367.40" stroke="#3a3a3a" stroke-width="0.6" />
<line x1="221.90" y1="364.20" x2="223.10" y2="364.20" stroke="#3a3a3a" stroke-width="0.6" />
<line x1="221.90" y1="361.00" x2="223.10" y2="361.00" stroke="#3a3a3a" stroke-width="0.6" />
<line x1="221.90" y1="357.80" x2="223.10" y2="357.80" stroke="#3a3a3a" stroke-width="0.6" />
<line x1="221.90" y1="354.60" x2="223.10" y2="354.60" stroke="#3a3a3a" stroke-width="0.6" />
<line x1="221.90" y1="351.40" x2="223.10" y2="351.40" stroke="#3a3a3a" stroke-width="0.6" />
<line x1="221.90" y1="348.20" x2="223.10" y2="348.20" stroke="#3a3a3a" stroke-width="0.6" />
<line x1="221.90" y1="345.00" x2="223.10" y2="345.00" stroke="#3a3a3a" stroke-width="0.6" />
<line x1="221.90" y1="341.80" x2="223.10" y2="341.80" stroke="#3a3a3a" stroke-width="0.6" />
<line x1="221.90" y1="338.60" x2="223.10" y2="338.60" stroke="#3a3a3a" stroke-width="0.6" />
<line x1="221.90" y1="335.40" x2="223.10" y2="335.40" stroke="#3a3a3a" stroke-width="0.6" />
<line x1="221.90" y1="332.20" x2="223.10" y2="332.20" stroke="#3a3a3a" stroke-width="0.6" />
<line x1="221.90" y1="329.00" x2="223.10" y2="329.00" stroke="#3a3a3a" stroke-width="0.6" />
<line x1="221.90" y1="325.80" x2="223.10" y2="325.80" stroke="#3a3a3a" stroke-width="0.6" />
<line x1="221.90" y1="322.60" x2="223.10" y2="322.60" stroke="#3a3a3a" stroke-width="0.6" />
<line x1="221.90" y1="319.40" x2="223.10" y2="319.40" stroke="#3a3a3a" stroke-width="0.6" />
<line x1="221.90" y1="316.20" x2="223.10" y2="316.20" stroke="#3a3a3a" stroke-width="0.6" />
<line x1="221.90" y1="313.00" x2="223.10" y2="313.00" stroke="#3a3a3a" stroke-width="0.6" />
<line x1="221.90" y1="309.80" x2="223.10" y2="309.80" stroke="#3a3a3a" stroke-width="0.6" />
<line x1="221.90" y1="306.60" x2="223.10" y2="306.60" stroke="#3a3a3a" stroke-width="0.6" />
<line x1="221.90" y1="303.40" x2="223.10" y2="303.40" stroke="#3a3a3a" stroke-width="0.6" />
<line x1="221.90" y1="300.20" x2="223.10" y2="300.20" stroke="#3a3a3a" stroke-width="0.6" />
<line x1="221.90" y1="297.00" x2="223.10" y2="297.00" stroke="#3a3a3a" stroke-width="0.6" />
<text x="229.20" y="389.20" font-size="5.8" fill="#3b3b3b" stroke="#3b3b3b" stroke-width="0.1" text-anchor="middle">10<tspan font-size="3.6" dy="-2.3">2</tspan></text>
<text x="257.92" y="389.20" font-size="5.8" fill="#3b3b3b" stroke="#3b3b3b" stroke-width="0.1" text-anchor="middle">10<tspan font-size="3.6" dy="-2.3">3</tspan></text>
<text x="286.64" y="389.20" font-size="5.8" fill="#3b3b3b" stroke="#3b3b3b" stroke-width="0.1" text-anchor="middle">10<tspan font-size="3.6" dy="-2.3">4</tspan></text>
<text x="315.36" y="389.20" font-size="5.8" fill="#3b3b3b" stroke="#3b3b3b" stroke-width="0.1" text-anchor="middle">10<tspan font-size="3.6" dy="-2.3">5</tspan></text>
<text x="281.25" y="400.04" font-size="8.5" fill="#3b3b3b" stroke="#3b3b3b" stroke-width="0.1" text-anchor="middle" textLength="42.5" lengthAdjust="spacingAndGlyphs" >BL1-A :: BL1-A</text>
<text transform="translate(196.90,336.00) rotate(-90)" x="0" y="3.29" text-anchor="middle" font-size="9.2" fill="#3b3b3b" stroke="#3b3b3b" stroke-width="0.1" textLength="61.8" lengthAdjust="spacingAndGlyphs" >Normalized to mode</text>
<text x="279.50" y="289.43" font-size="6.8" fill="#3b3b3b" stroke="#3b3b3b" stroke-width="0.1" text-anchor="middle" textLength="45" lengthAdjust="spacingAndGlyphs" >HepG2 binding</text>
<text x="279.50" y="296.83" font-size="6.8" fill="#3b3b3b" stroke="#3b3b3b" stroke-width="0.1" text-anchor="middle" textLength="24.2" lengthAdjust="spacingAndGlyphs" ><tspan font-style="italic">P</tspan> = .001</text>
<rect x="224.3" y="299.1" width="3.4" height="3.4" fill="#dedede" stroke="#fff" stroke-width="0.3"/>
<text x="231.00" y="303.23" font-size="6.8" fill="#3b3b3b" stroke="#3b3b3b" stroke-width="0.1" textLength="21.7" lengthAdjust="spacingAndGlyphs" >Control</text>
<rect x="224.3" y="305.7" width="3.4" height="3.4" fill="#e07a82" stroke="#fff" stroke-width="0.3"/>
<text x="231.00" y="309.83" font-size="6.8" fill="#3b3b3b" stroke="#3b3b3b" stroke-width="0.1" textLength="32.9" lengthAdjust="spacingAndGlyphs" >CHO-rVWF</text>
<rect x="224.3" y="312.8" width="3.4" height="3.4" fill="#5b78ad" stroke="#fff" stroke-width="0.3"/>
<text x="231.00" y="316.93" font-size="6.8" fill="#3b3b3b" stroke="#3b3b3b" stroke-width="0.1" textLength="21.7" lengthAdjust="spacingAndGlyphs" >pdVWF</text>
<line x1="396.10" y1="295.10" x2="396.10" y2="378.70" stroke="#3a3a3a" stroke-width="1.2" />
<line x1="393.30" y1="378.10" x2="396.10" y2="378.10" stroke="#3a3a3a" stroke-width="1.0" />
<text x="390.40" y="380.39" font-size="6.4" fill="#3b3b3b" stroke="#3b3b3b" stroke-width="0.1" text-anchor="end" >0.0</text>
<line x1="393.30" y1="358.00" x2="396.10" y2="358.00" stroke="#3a3a3a" stroke-width="1.0" />
<text x="390.40" y="360.29" font-size="6.4" fill="#3b3b3b" stroke="#3b3b3b" stroke-width="0.1" text-anchor="end" >0.2</text>
<line x1="393.30" y1="337.90" x2="396.10" y2="337.90" stroke="#3a3a3a" stroke-width="1.0" />
<text x="390.40" y="340.19" font-size="6.4" fill="#3b3b3b" stroke="#3b3b3b" stroke-width="0.1" text-anchor="end" >0.4</text>
<line x1="393.30" y1="317.80" x2="396.10" y2="317.80" stroke="#3a3a3a" stroke-width="1.0" />
<text x="390.40" y="320.09" font-size="6.4" fill="#3b3b3b" stroke="#3b3b3b" stroke-width="0.1" text-anchor="end" >0.6</text>
<line x1="393.30" y1="297.70" x2="396.10" y2="297.70" stroke="#3a3a3a" stroke-width="1.0" />
<text x="390.40" y="299.99" font-size="6.4" fill="#3b3b3b" stroke="#3b3b3b" stroke-width="0.1" text-anchor="end" >0.8</text>
<line x1="395.50" y1="378.10" x2="511.40" y2="378.10" stroke="#3a3a3a" stroke-width="1.2" />
<line x1="396.30" y1="378.10" x2="396.30" y2="380.70" stroke="#3a3a3a" stroke-width="1.0" />
<text x="396.30" y="390.49" font-size="6.4" fill="#3b3b3b" stroke="#3b3b3b" stroke-width="0.1" text-anchor="middle" >0</text>
<line x1="418.96" y1="378.10" x2="418.96" y2="380.70" stroke="#3a3a3a" stroke-width="1.0" />
<text x="418.96" y="390.49" font-size="6.4" fill="#3b3b3b" stroke="#3b3b3b" stroke-width="0.1" text-anchor="middle" >2</text>
<line x1="441.62" y1="378.10" x2="441.62" y2="380.70" stroke="#3a3a3a" stroke-width="1.0" />
<text x="441.62" y="390.49" font-size="6.4" fill="#3b3b3b" stroke="#3b3b3b" stroke-width="0.1" text-anchor="middle" >4</text>
<line x1="464.28" y1="378.10" x2="464.28" y2="380.70" stroke="#3a3a3a" stroke-width="1.0" />
<text x="464.28" y="390.49" font-size="6.4" fill="#3b3b3b" stroke="#3b3b3b" stroke-width="0.1" text-anchor="middle" >6</text>
<line x1="486.94" y1="378.10" x2="486.94" y2="380.70" stroke="#3a3a3a" stroke-width="1.0" />
<text x="486.94" y="390.49" font-size="6.4" fill="#3b3b3b" stroke="#3b3b3b" stroke-width="0.1" text-anchor="middle" >8</text>
<line x1="509.60" y1="378.10" x2="509.60" y2="380.70" stroke="#3a3a3a" stroke-width="1.0" />
<text x="509.60" y="390.49" font-size="6.4" fill="#3b3b3b" stroke="#3b3b3b" stroke-width="0.1" text-anchor="middle" >10</text>
<line x1="407.63" y1="378.10" x2="407.63" y2="379.70" stroke="#3a3a3a" stroke-width="0.8" />
<line x1="430.29" y1="378.10" x2="430.29" y2="379.70" stroke="#3a3a3a" stroke-width="0.8" />
<line x1="452.95" y1="378.10" x2="452.95" y2="379.70" stroke="#3a3a3a" stroke-width="0.8" />
<line x1="475.61" y1="378.10" x2="475.61" y2="379.70" stroke="#3a3a3a" stroke-width="0.8" />
<line x1="498.27" y1="378.10" x2="498.27" y2="379.70" stroke="#3a3a3a" stroke-width="0.8" />
<text x="455.15" y="402.44" font-size="8.5" fill="#3b3b3b" stroke="#3b3b3b" stroke-width="0.1" text-anchor="middle" textLength="39.3" lengthAdjust="spacingAndGlyphs" >VWF (µg/ml)</text>
<text transform="translate(372.90,336.30) rotate(-90)" x="0" y="3.15" text-anchor="middle" font-size="8.8" fill="#3b3b3b" stroke="#3b3b3b" stroke-width="0.1" textLength="34.85" lengthAdjust="spacingAndGlyphs" >Abs 450nm</text>
<text x="454.30" y="293.23" font-size="6.8" fill="#3b3b3b" stroke="#3b3b3b" stroke-width="0.1" font-style="italic" text-anchor="middle" textLength="21" lengthAdjust="spacingAndGlyphs" >Asgpr1</text>
<text x="454.30" y="300.93" font-size="6.8" fill="#3b3b3b" stroke="#3b3b3b" stroke-width="0.1" text-anchor="middle" textLength="22.8" lengthAdjust="spacingAndGlyphs" ><tspan font-style="italic">P</tspan> &lt; .001</text>
<path d="M396.30,378.10 L397.24,378.10 L398.19,377.60 L399.13,375.21 L400.08,372.96 L401.02,370.86 L401.97,368.89 L402.91,367.03 L403.85,365.28 L404.80,363.63 L405.74,362.06 L406.69,360.58 L407.63,359.18 L408.57,357.84 L409.52,356.57 L410.46,355.36 L411.41,354.20 L412.35,353.10 L413.30,352.05 L414.24,351.04 L415.18,350.08 L416.13,349.16 L417.07,348.27 L418.02,347.42 L418.96,346.60 L419.90,345.82 L420.85,345.06 L421.79,344.33 L422.74,343.63 L423.68,342.95 L424.62,342.30 L425.57,341.67 L426.51,341.06 L427.46,340.47 L428.40,339.90 L429.35,339.35 L430.29,338.82 L431.23,338.30 L432.18,337.80 L433.12,337.32 L434.07,336.84 L435.01,336.39 L435.96,335.94 L436.90,335.51 L437.84,335.09 L438.79,334.68 L439.73,334.29 L440.68,333.90 L441.62,333.53 L442.56,333.16 L443.51,332.80 L444.45,332.46 L445.40,332.12 L446.34,331.79 L447.29,331.47 L448.23,331.15 L449.17,330.85 L450.12,330.55 L451.06,330.26 L452.01,329.97 L452.95,329.69 L453.89,329.42 L454.84,329.16 L455.78,328.90 L456.73,328.64 L457.67,328.39 L458.62,328.15 L459.56,327.91 L460.50,327.68 L461.45,327.45 L462.39,327.22 L463.34,327.00 L464.28,326.79 L465.22,326.58 L466.17,326.37 L467.11,326.17 L468.06,325.97 L469.00,325.78 L469.94,325.59 L470.89,325.40 L471.83,325.22 L472.78,325.04 L473.72,324.86 L474.67,324.69 L475.61,324.51 L476.55,324.35 L477.50,324.18 L478.44,324.02 L479.39,323.86 L480.33,323.71 L481.27,323.55 L482.22,323.40 L483.16,323.25 L484.11,323.11 L485.05,322.96 L486.00,322.82 L486.94,322.68 L487.88,322.55 L488.83,322.41 L489.77,322.28 L490.72,322.15 L491.66,322.02 L492.61,321.89 L493.55,321.77 L494.49,321.65 L495.44,321.53 L496.38,321.41 L497.33,321.29 L498.27,321.18 L499.21,321.06 L500.16,320.95 L501.10,320.84 L502.05,320.73 L502.99,320.63 L503.94,320.52 L504.88,320.42 L505.82,320.31 L506.77,320.21 L507.71,320.11 L508.66,320.01 L509.60,319.92" stroke="#2b5f91" stroke-width="1.2" fill="none" />
<path d="M396.30,378.10 L397.24,378.10 L398.19,378.10 L399.13,378.10 L400.08,377.46 L401.02,376.83 L401.97,376.20 L402.91,375.59 L403.85,374.98 L404.80,374.38 L405.74,373.78 L406.69,373.20 L407.63,372.62 L408.57,372.05 L409.52,371.48 L410.46,370.92 L411.41,370.37 L412.35,369.82 L413.30,369.28 L414.24,368.75 L415.18,368.22 L416.13,367.70 L417.07,367.19 L418.02,366.68 L418.96,366.18 L419.90,365.68 L420.85,365.19 L421.79,364.70 L422.74,364.22 L423.68,363.74 L424.62,363.27 L425.57,362.81 L426.51,362.35 L427.46,361.89 L428.40,361.44 L429.35,360.99 L430.29,360.55 L431.23,360.12 L432.18,359.68 L433.12,359.26 L434.07,358.83 L435.01,358.41 L435.96,358.00 L436.90,357.59 L437.84,357.18 L438.79,356.78 L439.73,356.38 L440.68,355.99 L441.62,355.60 L442.56,355.21 L443.51,354.83 L444.45,354.45 L445.40,354.08 L446.34,353.71 L447.29,353.34 L448.23,352.98 L449.17,352.61 L450.12,352.26 L451.06,351.90 L452.01,351.55 L452.95,351.21 L453.89,350.86 L454.84,350.52 L455.78,350.18 L456.73,349.85 L457.67,349.52 L458.62,349.19 L459.56,348.86 L460.50,348.54 L461.45,348.22 L462.39,347.90 L463.34,347.59 L464.28,347.28 L465.22,346.97 L466.17,346.67 L467.11,346.36 L468.06,346.06 L469.00,345.77 L469.94,345.47 L470.89,345.18 L471.83,344.89 L472.78,344.60 L473.72,344.31 L474.67,344.03 L475.61,343.75 L476.55,343.47 L477.50,343.20 L478.44,342.93 L479.39,342.65 L480.33,342.39 L481.27,342.12 L482.22,341.85 L483.16,341.59 L484.11,341.33 L485.05,341.07 L486.00,340.82 L486.94,340.56 L487.88,340.31 L488.83,340.06 L489.77,339.81 L490.72,339.57 L491.66,339.32 L492.61,339.08 L493.55,338.84 L494.49,338.60 L495.44,338.37 L496.38,338.13 L497.33,337.90 L498.27,337.67 L499.21,337.44 L500.16,337.21 L501.10,336.99 L502.05,336.76 L502.99,336.54 L503.94,336.32 L504.88,336.10 L505.82,335.88 L506.77,335.67 L507.71,335.45 L508.66,335.24 L509.60,335.03" stroke="#b8234e" stroke-width="1.2" fill="none" />
<line x1="401.97" y1="370.06" x2="401.97" y2="374.08" stroke="#4a86b4" stroke-width="0.8" />
<line x1="400.67" y1="370.06" x2="403.27" y2="370.06" stroke="#4a86b4" stroke-width="0.8" />
<line x1="400.67" y1="374.08" x2="403.27" y2="374.08" stroke="#4a86b4" stroke-width="0.8" />
<rect x="401.12" y="371.22" width="1.7" height="1.7" fill="#2b5f91"/>
<line x1="403.38" y1="368.05" x2="403.38" y2="372.07" stroke="#4a86b4" stroke-width="0.8" />
<line x1="402.08" y1="368.05" x2="404.68" y2="368.05" stroke="#4a86b4" stroke-width="0.8" />
<line x1="402.08" y1="372.07" x2="404.68" y2="372.07" stroke="#4a86b4" stroke-width="0.8" />
<rect x="402.53" y="369.21" width="1.7" height="1.7" fill="#2b5f91"/>
<line x1="410.46" y1="352.98" x2="410.46" y2="360.01" stroke="#4a86b4" stroke-width="0.8" />
<line x1="409.16" y1="352.98" x2="411.76" y2="352.98" stroke="#4a86b4" stroke-width="0.8" />
<line x1="409.16" y1="360.01" x2="411.76" y2="360.01" stroke="#4a86b4" stroke-width="0.8" />
<rect x="409.61" y="355.14" width="1.7" height="1.7" fill="#2b5f91"/>
<rect x="423.77" y="336.05" width="1.7" height="1.7" fill="#2b5f91"/>
<line x1="452.95" y1="321.82" x2="452.95" y2="338.91" stroke="#4a86b4" stroke-width="0.8" />
<line x1="451.65" y1="321.82" x2="454.25" y2="321.82" stroke="#4a86b4" stroke-width="0.8" />
<line x1="451.65" y1="338.91" x2="454.25" y2="338.91" stroke="#4a86b4" stroke-width="0.8" />
<rect x="452.10" y="331.42" width="1.7" height="1.7" fill="#2b5f91"/>
<line x1="509.60" y1="308.75" x2="509.60" y2="330.87" stroke="#4a86b4" stroke-width="0.8" />
<line x1="508.30" y1="308.75" x2="510.90" y2="308.75" stroke="#4a86b4" stroke-width="0.8" />
<line x1="508.30" y1="330.87" x2="510.90" y2="330.87" stroke="#4a86b4" stroke-width="0.8" />
<rect x="508.75" y="317.95" width="1.7" height="1.7" fill="#2b5f91"/>
<line x1="401.97" y1="376.09" x2="401.97" y2="378.10" stroke="#b8234e" stroke-width="0.8" />
<line x1="400.67" y1="376.09" x2="403.27" y2="376.09" stroke="#b8234e" stroke-width="0.8" />
<line x1="400.67" y1="378.10" x2="403.27" y2="378.10" stroke="#b8234e" stroke-width="0.8" />
<rect x="401.12" y="376.25" width="1.7" height="1.7" fill="#b8234e"/>
<line x1="403.38" y1="374.08" x2="403.38" y2="377.60" stroke="#b8234e" stroke-width="0.8" />
<line x1="402.08" y1="374.08" x2="404.68" y2="374.08" stroke="#b8234e" stroke-width="0.8" />
<line x1="402.08" y1="377.60" x2="404.68" y2="377.60" stroke="#b8234e" stroke-width="0.8" />
<rect x="402.53" y="374.24" width="1.7" height="1.7" fill="#b8234e"/>
<line x1="410.46" y1="368.05" x2="410.46" y2="373.08" stroke="#b8234e" stroke-width="0.8" />
<line x1="409.16" y1="368.05" x2="411.76" y2="368.05" stroke="#b8234e" stroke-width="0.8" />
<line x1="409.16" y1="373.08" x2="411.76" y2="373.08" stroke="#b8234e" stroke-width="0.8" />
<rect x="409.61" y="369.71" width="1.7" height="1.7" fill="#b8234e"/>
<line x1="424.62" y1="360.01" x2="424.62" y2="363.03" stroke="#b8234e" stroke-width="0.8" />
<line x1="423.32" y1="360.01" x2="425.93" y2="360.01" stroke="#b8234e" stroke-width="0.8" />
<line x1="423.32" y1="363.03" x2="425.93" y2="363.03" stroke="#b8234e" stroke-width="0.8" />
<rect x="423.77" y="360.17" width="1.7" height="1.7" fill="#b8234e"/>
<rect x="452.10" y="352.33" width="1.7" height="1.7" fill="#b8234e"/>
<line x1="509.60" y1="333.88" x2="509.60" y2="337.90" stroke="#b8234e" stroke-width="0.8" />
<line x1="508.30" y1="333.88" x2="510.90" y2="333.88" stroke="#b8234e" stroke-width="0.8" />
<line x1="508.30" y1="337.90" x2="510.90" y2="337.90" stroke="#b8234e" stroke-width="0.8" />
<rect x="508.75" y="335.04" width="1.7" height="1.7" fill="#b8234e"/>
<line x1="461.10" y1="363.80" x2="470.30" y2="363.80" stroke="#2b5f91" stroke-width="1.1" />
<rect x="464.80" y="362.90" width="1.8" height="1.8" fill="#2b5f91"/>
<line x1="461.10" y1="372.00" x2="470.30" y2="372.00" stroke="#b8234e" stroke-width="1.1" />
<rect x="464.80" y="371.10" width="1.8" height="1.8" fill="#b8234e"/>
<text x="473.00" y="366.23" font-size="6.8" fill="#3b3b3b" stroke="#3b3b3b" stroke-width="0.1" textLength="22" lengthAdjust="spacingAndGlyphs" >pdVWF</text>
<text x="473.00" y="374.43" font-size="6.8" fill="#3b3b3b" stroke="#3b3b3b" stroke-width="0.1" textLength="32" lengthAdjust="spacingAndGlyphs" >CHO-rVWF</text>
<line x1="50.90" y1="427.40" x2="50.90" y2="511.35" stroke="#3a3a3a" stroke-width="1.2" />
<line x1="48.10" y1="510.75" x2="50.90" y2="510.75" stroke="#3a3a3a" stroke-width="1.0" />
<text x="45.30" y="513.04" font-size="6.4" fill="#3b3b3b" stroke="#3b3b3b" stroke-width="0.1" text-anchor="end" >0</text>
<line x1="48.10" y1="494.65" x2="50.90" y2="494.65" stroke="#3a3a3a" stroke-width="1.0" />
<text x="45.30" y="496.94" font-size="6.4" fill="#3b3b3b" stroke="#3b3b3b" stroke-width="0.1" text-anchor="end" >20</text>
<line x1="48.10" y1="478.55" x2="50.90" y2="478.55" stroke="#3a3a3a" stroke-width="1.0" />
<text x="45.30" y="480.84" font-size="6.4" fill="#3b3b3b" stroke="#3b3b3b" stroke-width="0.1" text-anchor="end" >40</text>
<line x1="48.10" y1="462.45" x2="50.90" y2="462.45" stroke="#3a3a3a" stroke-width="1.0" />
<text x="45.30" y="464.74" font-size="6.4" fill="#3b3b3b" stroke="#3b3b3b" stroke-width="0.1" text-anchor="end" >60</text>
<line x1="48.10" y1="446.35" x2="50.90" y2="446.35" stroke="#3a3a3a" stroke-width="1.0" />
<text x="45.30" y="448.64" font-size="6.4" fill="#3b3b3b" stroke="#3b3b3b" stroke-width="0.1" text-anchor="end" >80</text>
<line x1="48.10" y1="430.25" x2="50.90" y2="430.25" stroke="#3a3a3a" stroke-width="1.0" />
<text x="45.30" y="432.54" font-size="6.4" fill="#3b3b3b" stroke="#3b3b3b" stroke-width="0.1" text-anchor="end" >100</text>
<line x1="50.30" y1="510.75" x2="165.50" y2="510.75" stroke="#3a3a3a" stroke-width="1.2" />
<line x1="50.90" y1="510.75" x2="50.90" y2="513.55" stroke="#3a3a3a" stroke-width="1.0" />
<text x="50.90" y="522.89" font-size="6.4" fill="#3b3b3b" stroke="#3b3b3b" stroke-width="0.1" text-anchor="middle" >0</text>
<line x1="88.40" y1="510.75" x2="88.40" y2="513.55" stroke="#3a3a3a" stroke-width="1.0" />
<text x="88.40" y="522.89" font-size="6.4" fill="#3b3b3b" stroke="#3b3b3b" stroke-width="0.1" text-anchor="middle" >1</text>
<line x1="125.90" y1="510.75" x2="125.90" y2="513.55" stroke="#3a3a3a" stroke-width="1.0" />
<text x="125.90" y="522.89" font-size="6.4" fill="#3b3b3b" stroke="#3b3b3b" stroke-width="0.1" text-anchor="middle" >2</text>
<line x1="163.40" y1="510.75" x2="163.40" y2="513.55" stroke="#3a3a3a" stroke-width="1.0" />
<text x="163.40" y="522.89" font-size="6.4" fill="#3b3b3b" stroke="#3b3b3b" stroke-width="0.1" text-anchor="middle" >3</text>
<text x="109.10" y="534.34" font-size="8.5" fill="#3b3b3b" stroke="#3b3b3b" stroke-width="0.1" text-anchor="middle" textLength="38.8" lengthAdjust="spacingAndGlyphs" >Time (hours)</text>
<text transform="translate(26.00,468.90) rotate(-90)" x="0" y="3.08" text-anchor="middle" font-size="8.6" fill="#3b3b3b" stroke="#3b3b3b" stroke-width="0.1" textLength="53" lengthAdjust="spacingAndGlyphs" >Residual VWF (%)</text>
<line x1="69.65" y1="466.48" x2="69.65" y2="476.13" stroke="#4f9db0" stroke-width="0.7" />
<line x1="68.45" y1="466.48" x2="70.85" y2="466.48" stroke="#4f9db0" stroke-width="0.7" />
<line x1="68.45" y1="476.13" x2="70.85" y2="476.13" stroke="#4f9db0" stroke-width="0.7" />
<line x1="88.40" y1="475.33" x2="88.40" y2="489.82" stroke="#4f9db0" stroke-width="0.7" />
<line x1="87.20" y1="475.33" x2="89.60" y2="475.33" stroke="#4f9db0" stroke-width="0.7" />
<line x1="87.20" y1="489.82" x2="89.60" y2="489.82" stroke="#4f9db0" stroke-width="0.7" />
<line x1="107.15" y1="485.80" x2="107.15" y2="490.62" stroke="#4f9db0" stroke-width="0.7" />
<line x1="105.95" y1="485.80" x2="108.35" y2="485.80" stroke="#4f9db0" stroke-width="0.7" />
<line x1="105.95" y1="490.62" x2="108.35" y2="490.62" stroke="#4f9db0" stroke-width="0.7" />
<line x1="163.40" y1="480.48" x2="163.40" y2="493.04" stroke="#4f9db0" stroke-width="0.7" />
<line x1="162.20" y1="480.48" x2="164.60" y2="480.48" stroke="#4f9db0" stroke-width="0.7" />
<line x1="162.20" y1="493.04" x2="164.60" y2="493.04" stroke="#4f9db0" stroke-width="0.7" />
<line x1="69.65" y1="443.61" x2="69.65" y2="474.77" stroke="#e06a7c" stroke-width="0.7" />
<line x1="68.45" y1="443.61" x2="70.85" y2="443.61" stroke="#e06a7c" stroke-width="0.7" />
<line x1="68.45" y1="474.77" x2="70.85" y2="474.77" stroke="#e06a7c" stroke-width="0.7" />
<line x1="88.40" y1="470.50" x2="88.40" y2="481.77" stroke="#e06a7c" stroke-width="0.7" />
<line x1="87.20" y1="470.50" x2="89.60" y2="470.50" stroke="#e06a7c" stroke-width="0.7" />
<line x1="87.20" y1="481.77" x2="89.60" y2="481.77" stroke="#e06a7c" stroke-width="0.7" />
<line x1="107.15" y1="480.96" x2="107.15" y2="486.60" stroke="#e06a7c" stroke-width="0.7" />
<line x1="105.95" y1="480.96" x2="108.35" y2="480.96" stroke="#e06a7c" stroke-width="0.7" />
<line x1="105.95" y1="486.60" x2="108.35" y2="486.60" stroke="#e06a7c" stroke-width="0.7" />
<line x1="163.40" y1="480.48" x2="163.40" y2="500.20" stroke="#e06a7c" stroke-width="0.7" />
<line x1="162.20" y1="480.48" x2="164.60" y2="480.48" stroke="#e06a7c" stroke-width="0.7" />
<line x1="162.20" y1="500.20" x2="164.60" y2="500.20" stroke="#e06a7c" stroke-width="0.7" />
<path d="M50.90,430.25 L52.77,437.14 L54.65,443.19 L56.52,448.51 L58.40,453.17 L60.27,457.26 L62.15,460.85 L64.03,464.00 L65.90,466.76 L67.78,469.19 L69.65,471.32 L71.53,473.19 L73.40,474.83 L75.28,476.27 L77.15,477.53 L79.03,478.64 L80.90,479.62 L82.78,480.47 L84.65,481.22 L86.53,481.88 L88.40,482.46 L90.28,482.96 L92.15,483.41 L94.03,483.80 L95.90,484.14 L97.78,484.44 L99.65,484.71 L101.53,484.94 L103.40,485.14 L105.28,485.32 L107.15,485.48 L109.03,485.61 L110.90,485.73 L112.78,485.84 L114.65,485.93 L116.53,486.01 L118.40,486.09 L120.28,486.15 L122.15,486.20 L124.03,486.25 L125.90,486.30 L127.78,486.33 L129.65,486.37 L131.53,486.39 L133.40,486.42 L135.28,486.44 L137.15,486.46 L139.03,486.48 L140.90,486.49 L142.78,486.51 L144.65,486.52 L146.53,486.53 L148.40,486.54 L150.28,486.54 L152.15,486.55 L154.03,486.56 L155.90,486.56 L157.78,486.57 L159.65,486.57 L161.53,486.57 L163.40,486.58" stroke="#4f9db0" stroke-width="1.0" fill="none" stroke-dasharray="1.3,1"/>
<path d="M50.90,430.25 L52.77,433.95 L54.65,437.44 L56.52,440.73 L58.40,443.82 L60.27,446.73 L62.15,449.48 L64.03,452.06 L65.90,454.49 L67.78,456.79 L69.65,458.94 L71.53,460.98 L73.40,462.89 L75.28,464.69 L77.15,466.39 L79.03,467.99 L80.90,469.49 L82.78,470.91 L84.65,472.25 L86.53,473.51 L88.40,474.69 L90.28,475.81 L92.15,476.86 L94.03,477.85 L95.90,478.78 L97.78,479.66 L99.65,480.48 L101.53,481.26 L103.40,481.99 L105.28,482.68 L107.15,483.33 L109.03,483.94 L110.90,484.52 L112.78,485.06 L114.65,485.58 L116.53,486.06 L118.40,486.51 L120.28,486.94 L122.15,487.34 L124.03,487.72 L125.90,488.08 L127.78,488.41 L129.65,488.73 L131.53,489.03 L133.40,489.31 L135.28,489.57 L137.15,489.82 L139.03,490.05 L140.90,490.28 L142.78,490.48 L144.65,490.68 L146.53,490.86 L148.40,491.04 L150.28,491.20 L152.15,491.35 L154.03,491.50 L155.90,491.64 L157.78,491.76 L159.65,491.89 L161.53,492.00 L163.40,492.11" stroke="#e06a7c" stroke-width="1.1" fill="none" stroke-dasharray="1.3,1"/>
<path d="M50.90,430.25 L52.77,434.30 L54.65,438.12 L56.52,441.73 L58.40,445.14 L60.27,448.35 L62.15,451.39 L64.03,454.26 L65.90,456.96 L67.78,459.52 L69.65,461.93 L71.53,464.21 L73.40,466.36 L75.28,468.39 L77.15,470.31 L79.03,472.12 L80.90,473.83 L82.78,475.44 L84.65,476.96 L86.53,478.40 L88.40,479.76 L90.28,481.04 L92.15,482.25 L94.03,483.39 L95.90,484.47 L97.78,485.49 L99.65,486.45 L101.53,487.36 L103.40,488.22 L105.28,489.03 L107.15,489.79 L109.03,490.51 L110.90,491.19 L112.78,491.84 L114.65,492.44 L116.53,493.02 L118.40,493.56 L120.28,494.07 L122.15,494.55 L124.03,495.01 L125.90,495.44 L127.78,495.84 L129.65,496.23 L131.53,496.59 L133.40,496.93 L135.28,497.25 L137.15,497.56 L139.03,497.84 L140.90,498.11 L142.78,498.37 L144.65,498.61 L146.53,498.84 L148.40,499.06 L150.28,499.26 L152.15,499.45 L154.03,499.63 L155.90,499.81 L157.78,499.97 L159.65,500.12 L161.53,500.26 L163.40,500.40" stroke="#1e4a78" stroke-width="1.2" fill="none" />
<path d="M50.90,430.25 L52.77,433.46 L54.65,436.51 L56.52,439.40 L58.40,442.14 L60.27,444.75 L62.15,447.22 L64.03,449.56 L65.90,451.78 L67.78,453.89 L69.65,455.90 L71.53,457.80 L73.40,459.60 L75.28,461.31 L77.15,462.93 L79.03,464.47 L80.90,465.93 L82.78,467.32 L84.65,468.63 L86.53,469.88 L88.40,471.07 L90.28,472.19 L92.15,473.26 L94.03,474.27 L95.90,475.23 L97.78,476.14 L99.65,477.00 L101.53,477.82 L103.40,478.60 L105.28,479.34 L107.15,480.04 L109.03,480.71 L110.90,481.34 L112.78,481.94 L114.65,482.50 L116.53,483.04 L118.40,483.55 L120.28,484.04 L122.15,484.50 L124.03,484.94 L125.90,485.35 L127.78,485.74 L129.65,486.12 L131.53,486.47 L133.40,486.81 L135.28,487.13 L137.15,487.43 L139.03,487.72 L140.90,487.99 L142.78,488.25 L144.65,488.49 L146.53,488.72 L148.40,488.94 L150.28,489.15 L152.15,489.35 L154.03,489.54 L155.90,489.72 L157.78,489.89 L159.65,490.05 L161.53,490.20 L163.40,490.35" stroke="#a8223e" stroke-width="1.15" fill="none" />
<line x1="69.65" y1="458.59" x2="69.65" y2="473.72" stroke="#1e4a78" stroke-width="0.8" />
<line x1="68.45" y1="458.59" x2="70.85" y2="458.59" stroke="#1e4a78" stroke-width="0.8" />
<line x1="68.45" y1="473.72" x2="70.85" y2="473.72" stroke="#1e4a78" stroke-width="0.8" />
<rect x="68.75" y="462.36" width="1.8" height="1.8" fill="#1e4a78"/>
<line x1="88.40" y1="480.48" x2="88.40" y2="491.11" stroke="#1e4a78" stroke-width="0.8" />
<line x1="87.20" y1="480.48" x2="89.60" y2="480.48" stroke="#1e4a78" stroke-width="0.8" />
<line x1="87.20" y1="491.11" x2="89.60" y2="491.11" stroke="#1e4a78" stroke-width="0.8" />
<rect x="87.50" y="485.38" width="1.8" height="1.8" fill="#1e4a78"/>
<line x1="107.15" y1="488.61" x2="107.15" y2="493.20" stroke="#1e4a78" stroke-width="0.8" />
<line x1="105.95" y1="488.61" x2="108.35" y2="488.61" stroke="#1e4a78" stroke-width="0.8" />
<line x1="105.95" y1="493.20" x2="108.35" y2="493.20" stroke="#1e4a78" stroke-width="0.8" />
<rect x="106.25" y="490.13" width="1.8" height="1.8" fill="#1e4a78"/>
<line x1="163.40" y1="496.74" x2="163.40" y2="503.50" stroke="#1e4a78" stroke-width="0.8" />
<line x1="162.20" y1="496.74" x2="164.60" y2="496.74" stroke="#1e4a78" stroke-width="0.8" />
<line x1="162.20" y1="503.50" x2="164.60" y2="503.50" stroke="#1e4a78" stroke-width="0.8" />
<rect x="162.50" y="499.39" width="1.8" height="1.8" fill="#1e4a78"/>
<line x1="69.65" y1="450.54" x2="69.65" y2="458.59" stroke="#a8223e" stroke-width="0.8" />
<line x1="68.45" y1="450.54" x2="70.85" y2="450.54" stroke="#a8223e" stroke-width="0.8" />
<line x1="68.45" y1="458.59" x2="70.85" y2="458.59" stroke="#a8223e" stroke-width="0.8" />
<rect x="68.75" y="453.10" width="1.8" height="1.8" fill="#a8223e"/>
<line x1="88.40" y1="467.76" x2="88.40" y2="475.89" stroke="#a8223e" stroke-width="0.8" />
<line x1="87.20" y1="467.76" x2="89.60" y2="467.76" stroke="#a8223e" stroke-width="0.8" />
<line x1="87.20" y1="475.89" x2="89.60" y2="475.89" stroke="#a8223e" stroke-width="0.8" />
<rect x="87.50" y="470.41" width="1.8" height="1.8" fill="#a8223e"/>
<line x1="107.15" y1="479.36" x2="107.15" y2="484.51" stroke="#a8223e" stroke-width="0.8" />
<line x1="105.95" y1="479.36" x2="108.35" y2="479.36" stroke="#a8223e" stroke-width="0.8" />
<line x1="105.95" y1="484.51" x2="108.35" y2="484.51" stroke="#a8223e" stroke-width="0.8" />
<rect x="106.25" y="480.87" width="1.8" height="1.8" fill="#a8223e"/>
<line x1="163.40" y1="487.49" x2="163.40" y2="494.41" stroke="#a8223e" stroke-width="0.8" />
<line x1="162.20" y1="487.49" x2="164.60" y2="487.49" stroke="#a8223e" stroke-width="0.8" />
<line x1="162.20" y1="494.41" x2="164.60" y2="494.41" stroke="#a8223e" stroke-width="0.8" />
<rect x="162.50" y="489.97" width="1.8" height="1.8" fill="#a8223e"/>
<rect x="49.90" y="429.25" width="2" height="2" fill="#1e4a78"/>
<line x1="86.50" y1="433.65" x2="93.80" y2="433.65" stroke="#1e4a78" stroke-width="1.1" />
<rect x="89.25" y="432.75" width="1.8" height="1.8" fill="#1e4a78"/>
<text x="98.00" y="436.08" font-size="6.8" fill="#3b3b3b" stroke="#3b3b3b" stroke-width="0.1" textLength="40.1" lengthAdjust="spacingAndGlyphs">WT + pdVWF</text>
<line x1="86.50" y1="442.10" x2="93.80" y2="442.10" stroke="#4f9db0" stroke-width="1.1" stroke-dasharray="1.3,1"/>
<rect x="89.25" y="441.20" width="1.8" height="1.8" fill="#4f9db0"/>
<text x="98.00" y="444.53" font-size="6.8" fill="#3b3b3b" stroke="#3b3b3b" stroke-width="0.1" font-style="italic" textLength="17.2" lengthAdjust="spacingAndGlyphs">Asgr1</text>
<text x="115.20" y="441.20" font-size="3.4" fill="#3b3b3b" stroke="#3b3b3b" stroke-width="0.1" textLength="4.7" lengthAdjust="spacingAndGlyphs">−/−</text>
<text x="123.30" y="444.53" font-size="6.8" fill="#3b3b3b" stroke="#3b3b3b" stroke-width="0.1" textLength="27.6" lengthAdjust="spacingAndGlyphs">+ pdVWF</text>
<line x1="86.50" y1="450.90" x2="93.80" y2="450.90" stroke="#a8223e" stroke-width="1.1" />
<rect x="89.25" y="450.00" width="1.8" height="1.8" fill="#a8223e"/>
<text x="98.00" y="453.33" font-size="6.8" fill="#3b3b3b" stroke="#3b3b3b" stroke-width="0.1" textLength="50.8" lengthAdjust="spacingAndGlyphs">WT + CHO-rVWF</text>
<line x1="86.50" y1="459.60" x2="93.80" y2="459.60" stroke="#e06a7c" stroke-width="1.1" stroke-dasharray="1.3,1"/>
<rect x="89.25" y="458.70" width="1.8" height="1.8" fill="#e06a7c"/>
<text x="98.00" y="462.03" font-size="6.8" fill="#3b3b3b" stroke="#3b3b3b" stroke-width="0.1" font-style="italic" textLength="17.2" lengthAdjust="spacingAndGlyphs">Asgr1</text>
<text x="115.20" y="458.70" font-size="3.4" fill="#3b3b3b" stroke="#3b3b3b" stroke-width="0.1" textLength="4.7" lengthAdjust="spacingAndGlyphs">−/−</text>
<text x="123.30" y="462.03" font-size="6.8" fill="#3b3b3b" stroke="#3b3b3b" stroke-width="0.1" textLength="39" lengthAdjust="spacingAndGlyphs">+ CHO-rVWF</text>
<line x1="220.30" y1="427.40" x2="220.30" y2="511.35" stroke="#3a3a3a" stroke-width="1.2" />
<line x1="217.50" y1="510.75" x2="220.30" y2="510.75" stroke="#3a3a3a" stroke-width="1.0" />
<text x="214.00" y="513.04" font-size="6.4" fill="#3b3b3b" stroke="#3b3b3b" stroke-width="0.1" text-anchor="end" >0.0</text>
<line x1="217.50" y1="483.90" x2="220.30" y2="483.90" stroke="#3a3a3a" stroke-width="1.0" />
<text x="214.00" y="486.19" font-size="6.4" fill="#3b3b3b" stroke="#3b3b3b" stroke-width="0.1" text-anchor="end" >0.2</text>
<line x1="217.50" y1="457.05" x2="220.30" y2="457.05" stroke="#3a3a3a" stroke-width="1.0" />
<text x="214.00" y="459.34" font-size="6.4" fill="#3b3b3b" stroke="#3b3b3b" stroke-width="0.1" text-anchor="end" >0.4</text>
<line x1="217.50" y1="430.20" x2="220.30" y2="430.20" stroke="#3a3a3a" stroke-width="1.0" />
<text x="214.00" y="432.49" font-size="6.4" fill="#3b3b3b" stroke="#3b3b3b" stroke-width="0.1" text-anchor="end" >0.6</text>
<line x1="219.70" y1="510.75" x2="336.40" y2="510.75" stroke="#3a3a3a" stroke-width="1.2" />
<line x1="220.40" y1="510.75" x2="220.40" y2="513.35" stroke="#3a3a3a" stroke-width="1.0" />
<text x="220.40" y="522.39" font-size="6.4" fill="#3b3b3b" stroke="#3b3b3b" stroke-width="0.1" text-anchor="middle" >0</text>
<line x1="242.90" y1="510.75" x2="242.90" y2="513.35" stroke="#3a3a3a" stroke-width="1.0" />
<text x="242.90" y="522.39" font-size="6.4" fill="#3b3b3b" stroke="#3b3b3b" stroke-width="0.1" text-anchor="middle" >5</text>
<line x1="265.40" y1="510.75" x2="265.40" y2="513.35" stroke="#3a3a3a" stroke-width="1.0" />
<text x="265.40" y="522.39" font-size="6.4" fill="#3b3b3b" stroke="#3b3b3b" stroke-width="0.1" text-anchor="middle" >10</text>
<line x1="287.90" y1="510.75" x2="287.90" y2="513.35" stroke="#3a3a3a" stroke-width="1.0" />
<text x="287.90" y="522.39" font-size="6.4" fill="#3b3b3b" stroke="#3b3b3b" stroke-width="0.1" text-anchor="middle" >15</text>
<line x1="310.40" y1="510.75" x2="310.40" y2="513.35" stroke="#3a3a3a" stroke-width="1.0" />
<text x="310.40" y="522.39" font-size="6.4" fill="#3b3b3b" stroke="#3b3b3b" stroke-width="0.1" text-anchor="middle" >20</text>
<line x1="332.90" y1="510.75" x2="332.90" y2="513.35" stroke="#3a3a3a" stroke-width="1.0" />
<text x="332.90" y="522.39" font-size="6.4" fill="#3b3b3b" stroke="#3b3b3b" stroke-width="0.1" text-anchor="middle" >25</text>
<line x1="231.65" y1="510.75" x2="231.65" y2="512.35" stroke="#3a3a3a" stroke-width="0.8" />
<line x1="254.15" y1="510.75" x2="254.15" y2="512.35" stroke="#3a3a3a" stroke-width="0.8" />
<line x1="276.65" y1="510.75" x2="276.65" y2="512.35" stroke="#3a3a3a" stroke-width="0.8" />
<line x1="299.15" y1="510.75" x2="299.15" y2="512.35" stroke="#3a3a3a" stroke-width="0.8" />
<line x1="321.65" y1="510.75" x2="321.65" y2="512.35" stroke="#3a3a3a" stroke-width="0.8" />
<text x="278.35" y="534.84" font-size="8.5" fill="#3b3b3b" stroke="#3b3b3b" stroke-width="0.1" text-anchor="middle" textLength="39.3" lengthAdjust="spacingAndGlyphs" >VWF (µg/ml)</text>
<text transform="translate(197.40,469.20) rotate(-90)" x="0" y="3.15" text-anchor="middle" font-size="8.8" fill="#3b3b3b" stroke="#3b3b3b" stroke-width="0.1" textLength="34.85" lengthAdjust="spacingAndGlyphs" >Abs 450nm</text>
<text x="278.35" y="425.73" font-size="6.8" fill="#3b3b3b" stroke="#3b3b3b" stroke-width="0.1" text-anchor="middle" textLength="42.9" lengthAdjust="spacingAndGlyphs" >LRP1 cluster IV</text>
<text x="277.90" y="433.03" font-size="6.8" fill="#3b3b3b" stroke="#3b3b3b" stroke-width="0.1" text-anchor="middle" textLength="23.8" lengthAdjust="spacingAndGlyphs" ><tspan font-style="italic">P</tspan> = .015</text>
<path d="M220.40,510.75 L222.28,508.66 L224.15,506.64 L226.03,504.68 L227.90,502.78 L229.78,500.94 L231.65,499.16 L233.53,497.43 L235.40,495.75 L237.28,494.11 L239.15,492.53 L241.03,490.99 L242.90,489.49 L244.78,488.04 L246.65,486.62 L248.53,485.24 L250.40,483.90 L252.28,482.59 L254.15,481.32 L256.02,480.08 L257.90,478.87 L259.77,477.68 L261.65,476.53 L263.52,475.41 L265.40,474.31 L267.27,473.24 L269.15,472.19 L271.02,471.17 L272.90,470.17 L274.77,469.19 L276.65,468.24 L278.52,467.30 L280.40,466.39 L282.27,465.49 L284.15,464.62 L286.02,463.76 L287.90,462.92 L289.77,462.10 L291.65,461.30 L293.52,460.51 L295.40,459.74 L297.27,458.98 L299.15,458.23 L301.02,457.51 L302.90,456.79 L304.77,456.09 L306.65,455.40 L308.52,454.73 L310.40,454.07 L312.27,453.42 L314.15,452.78 L316.02,452.15 L317.90,451.54 L319.77,450.93 L321.65,450.34 L323.52,449.75 L325.40,449.18 L327.27,448.62 L329.15,448.06 L331.02,447.52 L332.90,446.98" stroke="#b8234e" stroke-width="1.2" fill="none" />
<path d="M220.40,510.75 L222.28,509.20 L224.15,507.71 L226.03,506.27 L227.90,504.89 L229.78,503.55 L231.65,502.26 L233.53,501.01 L235.40,499.80 L237.28,498.63 L239.15,497.50 L241.03,496.40 L242.90,495.34 L244.78,494.31 L246.65,493.31 L248.53,492.34 L250.40,491.39 L252.28,490.48 L254.15,489.59 L256.02,488.72 L257.90,487.88 L259.77,487.07 L261.65,486.27 L263.52,485.49 L265.40,484.74 L267.27,484.00 L269.15,483.29 L271.02,482.59 L272.90,481.91 L274.77,481.24 L276.65,480.59 L278.52,479.96 L280.40,479.34 L282.27,478.74 L284.15,478.15 L286.02,477.57 L287.90,477.01 L289.77,476.45 L291.65,475.92 L293.52,475.39 L295.40,474.87 L297.27,474.37 L299.15,473.87 L301.02,473.39 L302.90,472.92 L304.77,472.45 L306.65,472.00 L308.52,471.55 L310.40,471.11 L312.27,470.69 L314.15,470.27 L316.02,469.85 L317.90,469.45 L319.77,469.05 L321.65,468.66 L323.52,468.28 L325.40,467.91 L327.27,467.54 L329.15,467.18 L331.02,466.82 L332.90,466.48" stroke="#235d86" stroke-width="1.2" fill="none" />
<line x1="234.46" y1="489.94" x2="234.46" y2="500.01" stroke="#b8234e" stroke-width="0.8" />
<line x1="233.16" y1="489.94" x2="235.76" y2="489.94" stroke="#b8234e" stroke-width="0.8" />
<line x1="233.16" y1="500.01" x2="235.76" y2="500.01" stroke="#b8234e" stroke-width="0.8" />
<rect x="233.56" y="494.55" width="1.8" height="1.8" fill="#b8234e"/>
<line x1="248.53" y1="479.20" x2="248.53" y2="489.27" stroke="#b8234e" stroke-width="0.8" />
<line x1="247.22" y1="479.20" x2="249.83" y2="479.20" stroke="#b8234e" stroke-width="0.8" />
<line x1="247.22" y1="489.27" x2="249.83" y2="489.27" stroke="#b8234e" stroke-width="0.8" />
<rect x="247.62" y="483.40" width="1.8" height="1.8" fill="#b8234e"/>
<line x1="276.65" y1="463.23" x2="276.65" y2="478.80" stroke="#b8234e" stroke-width="0.8" />
<line x1="275.35" y1="463.23" x2="277.95" y2="463.23" stroke="#b8234e" stroke-width="0.8" />
<line x1="275.35" y1="478.80" x2="277.95" y2="478.80" stroke="#b8234e" stroke-width="0.8" />
<rect x="275.75" y="467.83" width="1.8" height="1.8" fill="#b8234e"/>
<line x1="332.90" y1="437.58" x2="332.90" y2="457.05" stroke="#b8234e" stroke-width="0.8" />
<line x1="331.60" y1="437.58" x2="334.20" y2="437.58" stroke="#b8234e" stroke-width="0.8" />
<line x1="331.60" y1="457.05" x2="334.20" y2="457.05" stroke="#b8234e" stroke-width="0.8" />
<rect x="332.00" y="445.81" width="1.8" height="1.8" fill="#b8234e"/>
<line x1="234.46" y1="499.07" x2="234.46" y2="504.04" stroke="#235d86" stroke-width="0.8" />
<line x1="233.16" y1="499.07" x2="235.76" y2="499.07" stroke="#235d86" stroke-width="0.8" />
<line x1="233.16" y1="504.04" x2="235.76" y2="504.04" stroke="#235d86" stroke-width="0.8" />
<rect x="233.56" y="500.05" width="1.8" height="1.8" fill="#235d86"/>
<line x1="248.53" y1="489.94" x2="248.53" y2="494.64" stroke="#235d86" stroke-width="0.8" />
<line x1="247.22" y1="489.94" x2="249.83" y2="489.94" stroke="#235d86" stroke-width="0.8" />
<line x1="247.22" y1="494.64" x2="249.83" y2="494.64" stroke="#235d86" stroke-width="0.8" />
<rect x="247.62" y="491.59" width="1.8" height="1.8" fill="#235d86"/>
<line x1="276.65" y1="477.86" x2="276.65" y2="484.30" stroke="#235d86" stroke-width="0.8" />
<line x1="275.35" y1="477.86" x2="277.95" y2="477.86" stroke="#235d86" stroke-width="0.8" />
<line x1="275.35" y1="484.30" x2="277.95" y2="484.30" stroke="#235d86" stroke-width="0.8" />
<rect x="275.75" y="479.64" width="1.8" height="1.8" fill="#235d86"/>
<line x1="332.90" y1="457.72" x2="332.90" y2="475.17" stroke="#235d86" stroke-width="0.8" />
<line x1="331.60" y1="457.72" x2="334.20" y2="457.72" stroke="#235d86" stroke-width="0.8" />
<line x1="331.60" y1="475.17" x2="334.20" y2="475.17" stroke="#235d86" stroke-width="0.8" />
<rect x="332.00" y="465.95" width="1.8" height="1.8" fill="#235d86"/>
<line x1="285.20" y1="496.70" x2="293.40" y2="496.70" stroke="#b8234e" stroke-width="1.1" />
<rect x="288.40" y="495.80" width="1.8" height="1.8" fill="#b8234e"/>
<line x1="285.20" y1="504.00" x2="293.40" y2="504.00" stroke="#235d86" stroke-width="1.1" />
<rect x="288.40" y="503.10" width="1.8" height="1.8" fill="#235d86"/>
<text x="296.20" y="499.13" font-size="6.8" fill="#3b3b3b" stroke="#3b3b3b" stroke-width="0.1" textLength="33.8" lengthAdjust="spacingAndGlyphs" >CHO-rVWF</text>
<text x="296.20" y="506.43" font-size="6.8" fill="#3b3b3b" stroke="#3b3b3b" stroke-width="0.1" textLength="23.8" lengthAdjust="spacingAndGlyphs" >pd-VWF</text>
<line x1="394.25" y1="427.40" x2="394.25" y2="511.20" stroke="#3a3a3a" stroke-width="1.2" />
<line x1="391.45" y1="510.60" x2="394.25" y2="510.60" stroke="#3a3a3a" stroke-width="1.0" />
<text x="388.60" y="512.96" font-size="6.6" fill="#3b3b3b" stroke="#3b3b3b" stroke-width="0.1" text-anchor="end" >0</text>
<line x1="391.45" y1="483.75" x2="394.25" y2="483.75" stroke="#3a3a3a" stroke-width="1.0" />
<text x="388.60" y="486.11" font-size="6.6" fill="#3b3b3b" stroke="#3b3b3b" stroke-width="0.1" text-anchor="end" >10</text>
<line x1="391.45" y1="456.90" x2="394.25" y2="456.90" stroke="#3a3a3a" stroke-width="1.0" />
<text x="388.60" y="459.26" font-size="6.6" fill="#3b3b3b" stroke="#3b3b3b" stroke-width="0.1" text-anchor="end" >20</text>
<line x1="391.45" y1="430.05" x2="394.25" y2="430.05" stroke="#3a3a3a" stroke-width="1.0" />
<text x="388.60" y="432.41" font-size="6.6" fill="#3b3b3b" stroke="#3b3b3b" stroke-width="0.1" text-anchor="end" >30</text>
<line x1="394.25" y1="510.70" x2="507.90" y2="510.70" stroke="#3a3a3a" stroke-width="1.3" />
<rect x="413.2" y="491.8" width="36.30" height="18.90" fill="#8799c6"/>
<line x1="431.35" y1="510.70" x2="431.35" y2="513.40" stroke="#3a3a3a" stroke-width="0.9" />
<rect x="453.2" y="465.1" width="36.00" height="45.60" fill="#e8877c"/>
<line x1="471.20" y1="510.70" x2="471.20" y2="513.40" stroke="#3a3a3a" stroke-width="0.9" />
<line x1="431.20" y1="489.70" x2="431.20" y2="492.90" stroke="#2a2a2a" stroke-width="0.9" />
<line x1="423.20" y1="489.70" x2="439.20" y2="489.70" stroke="#2a2a2a" stroke-width="0.9" />
<line x1="423.20" y1="492.90" x2="439.20" y2="492.90" stroke="#2a2a2a" stroke-width="0.9" />
<line x1="471.20" y1="459.30" x2="471.20" y2="471.70" stroke="#2a2a2a" stroke-width="0.9" />
<line x1="462.60" y1="459.30" x2="479.80" y2="459.30" stroke="#2a2a2a" stroke-width="0.9" />
<line x1="462.60" y1="471.70" x2="479.80" y2="471.70" stroke="#2a2a2a" stroke-width="0.9" />
<circle cx="430.60" cy="486.80" r="1.1" fill="#111"/>
<circle cx="426.70" cy="490.50" r="1.1" fill="#111"/>
<circle cx="435.40" cy="489.00" r="1.1" fill="#111"/>
<circle cx="427.80" cy="495.50" r="1.1" fill="#111"/>
<circle cx="433.20" cy="496.60" r="1.1" fill="#111"/>
<circle cx="437.50" cy="493.30" r="1.1" fill="#111"/>
<circle cx="469.00" cy="444.50" r="1.1" fill="#111"/>
<circle cx="474.00" cy="446.70" r="1.1" fill="#111"/>
<circle cx="471.20" cy="463.00" r="1.1" fill="#111"/>
<circle cx="471.20" cy="476.00" r="1.1" fill="#111"/>
<circle cx="471.20" cy="481.40" r="1.1" fill="#111"/>
<circle cx="471.20" cy="486.80" r="1.1" fill="#111"/>
<text x="431.25" y="522.23" font-size="6.8" fill="#3b3b3b" stroke="#3b3b3b" stroke-width="0.1" text-anchor="middle" textLength="22.1" lengthAdjust="spacingAndGlyphs" >pdVWF</text>
<text x="471.50" y="522.23" font-size="6.8" fill="#3b3b3b" stroke="#3b3b3b" stroke-width="0.1" text-anchor="middle" textLength="34" lengthAdjust="spacingAndGlyphs" >CHO-rVWF</text>
<text x="450.90" y="425.73" font-size="6.8" fill="#3b3b3b" stroke="#3b3b3b" stroke-width="0.1" text-anchor="middle" textLength="28.8" lengthAdjust="spacingAndGlyphs" >HEK-LRP1</text>
<text x="451.20" y="432.83" font-size="6.8" fill="#3b3b3b" stroke="#3b3b3b" stroke-width="0.1" text-anchor="middle" textLength="23.8" lengthAdjust="spacingAndGlyphs" ><tspan font-style="italic">P</tspan> = .001</text>
<text transform="translate(372.60,468.90) rotate(-90)" x="0" y="3.15" text-anchor="middle" font-size="8.8" fill="#3b3b3b" stroke="#3b3b3b" stroke-width="0.1" textLength="48" lengthAdjust="spacingAndGlyphs" >Normalized MFI</text>
<rect x="7.5" y="3.5" width="505" height="533" fill="none" stroke="#f3f3f3" stroke-width="0.8"/>
<rect x="0.5" y="0.5" width="519" height="543" fill="none" stroke="#666" stroke-width="1"/>
</svg></body></html>
